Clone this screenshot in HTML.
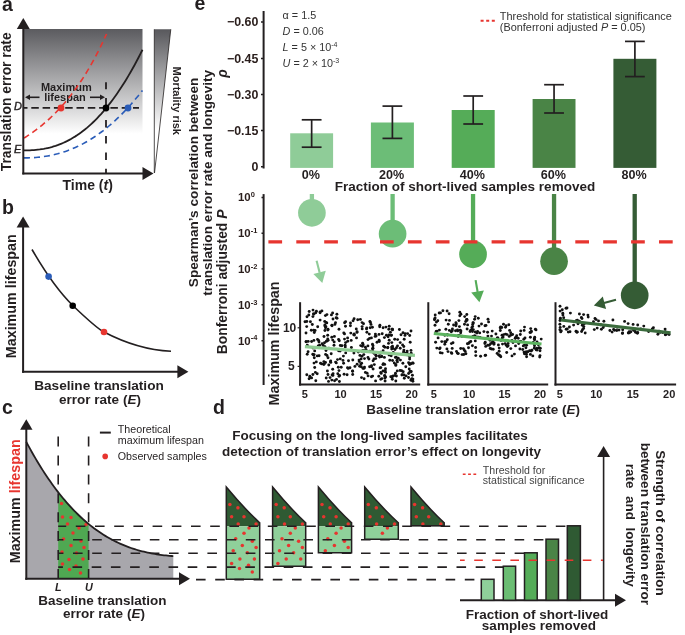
<!DOCTYPE html>
<html><head><meta charset="utf-8"><style>
html,body{margin:0;padding:0;background:#fff;}
svg{display:block;font-family:"Liberation Sans",sans-serif;will-change:transform;}
</style></head><body>
<svg width="685" height="635" viewBox="0 0 685 635">
<defs><linearGradient id="ga" x1="0" y1="0" x2="0" y2="1"><stop offset="0" stop-color="#5b5b5f"/><stop offset="0.97" stop-color="#ffffff"/><stop offset="1" stop-color="#ffffff"/></linearGradient><linearGradient id="gm" x1="0" y1="0" x2="0" y2="1"><stop offset="0" stop-color="#58585c"/><stop offset="0.7" stop-color="#ffffff"/><stop offset="1" stop-color="#ffffff"/></linearGradient></defs>
<text x="2" y="10.5" font-size="19.5" font-weight="bold" font-style="normal" text-anchor="start" fill="#231f20" >a</text>
<rect x="24" y="29" width="118.5" height="108" fill="url(#ga)" stroke="none" stroke-width="0"/>
<polygon points="154.3,29.3 170.8,29.3 154.5,173" fill="url(#gm)" stroke="none" stroke-width="0"/>
<line x1="154.3" y1="29.3" x2="154.3" y2="173" stroke="#231f20" stroke-width="0.8" stroke-linecap="butt"/>
<line x1="170.8" y1="29.3" x2="154.5" y2="173" stroke="#231f20" stroke-width="0.8" stroke-linecap="butt"/>
<text x="172.6" y="66.5" font-size="11" font-weight="bold" font-style="normal" text-anchor="start" fill="#231f20" transform="rotate(90 172.6 66.5)" >Mortality risk</text>
<text x="66.3" y="91.4" font-size="11" font-weight="bold" font-style="normal" text-anchor="middle" fill="#231f20" >Maximum</text>
<text x="65" y="100.9" font-size="11" font-weight="bold" font-style="normal" text-anchor="middle" fill="#231f20" >lifespan</text>
<path d="M24.00,150.46 L25.98,150.44 L27.95,150.39 L29.93,150.32 L31.90,150.22 L33.88,150.09 L35.85,149.92 L37.83,149.71 L39.80,149.47 L41.77,149.18 L43.75,148.85 L45.73,148.47 L47.70,148.04 L49.67,147.57 L51.65,147.05 L53.62,146.47 L55.60,145.85 L57.58,145.16 L59.55,144.42 L61.52,143.63 L63.50,142.78 L65.47,141.86 L67.45,140.89 L69.42,139.85 L71.40,138.76 L73.38,137.59 L75.35,136.37 L77.33,135.07 L79.30,133.71 L81.28,132.29 L83.25,130.79 L85.22,129.23 L87.20,127.59 L89.17,125.88 L91.15,124.10 L93.12,122.25 L95.10,120.32 L97.08,118.31 L99.05,116.23 L101.03,114.08 L103.00,111.84 L104.97,109.53 L106.95,107.14 L108.92,104.67 L110.90,102.12 L112.88,99.48 L114.85,96.77 L116.83,93.97 L118.80,91.09 L120.78,88.12 L122.75,85.07 L124.72,81.93 L126.70,78.71 L128.68,75.40 L130.65,72.00 L132.62,68.52 L134.60,64.94 L136.57,61.27 L138.55,57.52 L140.53,53.67 L142.50,49.73" stroke="#231f20" stroke-width="1.8" fill="none"/>
<path d="M24.00,138.08 L25.38,137.22 L26.75,136.33 L28.12,135.43 L29.50,134.51 L30.88,133.57 L32.25,132.61 L33.62,131.62 L35.00,130.62 L36.38,129.60 L37.75,128.55 L39.12,127.48 L40.50,126.39 L41.88,125.27 L43.25,124.13 L44.62,122.96 L46.00,121.77 L47.38,120.56 L48.75,119.32 L50.12,118.05 L51.50,116.75 L52.88,115.43 L54.25,114.07 L55.62,112.69 L57.00,111.28 L58.38,109.84 L59.75,108.36 L61.12,106.86 L62.50,105.32 L63.88,103.75 L65.25,102.15 L66.62,100.51 L68.00,98.83 L69.38,97.12 L70.75,95.37 L72.12,93.59 L73.50,91.76 L74.88,89.90 L76.25,88.00 L77.62,86.05 L79.00,84.07 L80.38,82.04 L81.75,79.96 L83.12,77.84 L84.50,75.68 L85.88,73.47 L87.25,71.21 L88.62,68.91 L90.00,66.55 L91.38,64.14 L92.75,61.68 L94.12,59.17 L95.50,56.61 L96.88,53.98 L98.25,51.31 L99.62,48.57 L101.00,45.77 L102.38,42.92 L103.75,40.00 L105.12,37.02 L106.50,33.98" stroke="#e7352f" stroke-width="1.6" fill="none" stroke-dasharray="6 4"/>
<path d="M24.00,157.92 L25.98,157.90 L27.95,157.86 L29.93,157.80 L31.90,157.71 L33.88,157.60 L35.85,157.46 L37.83,157.29 L39.80,157.09 L41.77,156.86 L43.75,156.59 L45.73,156.30 L47.70,155.97 L49.67,155.61 L51.65,155.21 L53.62,154.78 L55.60,154.31 L57.58,153.81 L59.55,153.26 L61.52,152.68 L63.50,152.06 L65.47,151.40 L67.45,150.70 L69.42,149.96 L71.40,149.18 L73.38,148.36 L75.35,147.50 L77.33,146.59 L79.30,145.64 L81.28,144.65 L83.25,143.61 L85.22,142.53 L87.20,141.41 L89.17,140.24 L91.15,139.03 L93.12,137.77 L95.10,136.46 L97.08,135.11 L99.05,133.71 L101.03,132.26 L103.00,130.77 L104.97,129.23 L106.95,127.64 L108.92,126.00 L110.90,124.32 L112.88,122.58 L114.85,120.80 L116.83,118.96 L118.80,117.08 L120.78,115.14 L122.75,113.16 L124.72,111.12 L126.70,109.03 L128.68,106.89 L130.65,104.70 L132.62,102.46 L134.60,100.16 L136.57,97.82 L138.55,95.41 L140.53,92.96 L142.50,90.45" stroke="#2a5cb8" stroke-width="1.6" fill="none" stroke-dasharray="6 4"/>
<line x1="24" y1="107.8" x2="139" y2="107.8" stroke="#231f20" stroke-width="1.8" stroke-dasharray="7.5 3.8" stroke-dashoffset="4"/>
<line x1="106" y1="82.3" x2="106" y2="89.3" stroke="#231f20" stroke-width="1.8" stroke-linecap="butt"/>
<line x1="106" y1="98" x2="106" y2="105" stroke="#231f20" stroke-width="1.8" stroke-linecap="butt"/>
<line x1="106" y1="119.9" x2="106" y2="127.6" stroke="#231f20" stroke-width="1.8" stroke-linecap="butt"/>
<line x1="106" y1="135.9" x2="106" y2="143.6" stroke="#231f20" stroke-width="1.8" stroke-linecap="butt"/>
<line x1="106" y1="152.4" x2="106" y2="160.1" stroke="#231f20" stroke-width="1.8" stroke-linecap="butt"/>
<line x1="106" y1="168.7" x2="106" y2="173" stroke="#231f20" stroke-width="1.8" stroke-linecap="butt"/>
<circle cx="61" cy="108" r="3.4" fill="#e7352f"/>
<circle cx="106" cy="108" r="3.4" fill="#000"/>
<circle cx="128" cy="108" r="3.4" fill="#2a5cb8"/>
<line x1="23.3" y1="29" x2="23.3" y2="174.4" stroke="#231f20" stroke-width="2" stroke-linecap="butt"/>
<polygon points="23.3,18 16.8,29 29.8,29" fill="#231f20" stroke="none" stroke-width="0"/>
<line x1="22.3" y1="173.5" x2="143" y2="173.5" stroke="#231f20" stroke-width="2" stroke-linecap="butt"/>
<polygon points="153.5,173.5 142.5,167.0 142.5,180.0" fill="#231f20" stroke="none" stroke-width="0"/>
<line x1="28" y1="97.3" x2="39.5" y2="97.3" stroke="#231f20" stroke-width="1.6" stroke-linecap="butt"/>
<polygon points="25,97.3 30,94.6 30,100" fill="#231f20" stroke="none" stroke-width="0"/>
<line x1="90" y1="97.3" x2="101" y2="97.3" stroke="#231f20" stroke-width="1.6" stroke-linecap="butt"/>
<polygon points="105,97.3 100,94.6 100,100" fill="#231f20" stroke="none" stroke-width="0"/>
<text x="14" y="109.5" font-size="11" font-weight="normal" font-style="italic" text-anchor="start" fill="#231f20" stroke="#231f20" stroke-width="0.4">D</text>
<text x="14" y="152.6" font-size="11" font-weight="normal" font-style="italic" text-anchor="start" fill="#231f20" stroke="#231f20" stroke-width="0.4">E</text>
<text x="10.6" y="101.8" font-size="13.8" font-weight="bold" font-style="normal" text-anchor="middle" fill="#231f20" transform="rotate(-90 10.6 101.8)" >Translation error rate</text>
<text x="62.5" y="190" font-size="14" font-weight="bold" font-style="normal" text-anchor="start" fill="#231f20" >Time (<tspan font-style="italic">t</tspan>)</text>
<text x="2" y="213.8" font-size="19.5" font-weight="bold" font-style="normal" text-anchor="start" fill="#231f20" >b</text>
<line x1="23.1" y1="226" x2="23.1" y2="372.8" stroke="#231f20" stroke-width="2" stroke-linecap="butt"/>
<polygon points="23.1,216.4 16.6,227.4 29.6,227.4" fill="#231f20" stroke="none" stroke-width="0"/>
<line x1="22.1" y1="371.8" x2="178" y2="371.8" stroke="#231f20" stroke-width="2" stroke-linecap="butt"/>
<polygon points="188.4,371.8 177.4,365.3 177.4,378.3" fill="#231f20" stroke="none" stroke-width="0"/>
<path d="M32,249.5 C45,272 60,293 73,305.7 C88,320 100,330 104,332 C125,343 145,350 171,351.3" stroke="#231f20" stroke-width="1.6" fill="none"/>
<circle cx="48.6" cy="276.6" r="3.3" fill="#2a5cb8"/>
<circle cx="72.7" cy="305.7" r="3.3" fill="#000"/>
<circle cx="104" cy="332" r="3.3" fill="#e7352f"/>
<text x="16.5" y="296.2" font-size="14.3" font-weight="bold" font-style="normal" text-anchor="middle" fill="#231f20" transform="rotate(-90 16.5 296.2)" >Maximum lifespan</text>
<text x="99" y="390.3" font-size="13.65" font-weight="bold" font-style="normal" text-anchor="middle" fill="#231f20" >Baseline translation</text>
<text x="100" y="404.1" font-size="13.5" font-weight="bold" font-style="normal" text-anchor="middle" fill="#231f20" >error rate (<tspan font-style="italic">E</tspan>)</text>
<text x="2" y="414.3" font-size="19.5" font-weight="bold" font-style="normal" text-anchor="start" fill="#231f20" >c</text>
<path d="M26.3,578.8 L26.30,441.89 L28.14,445.33 L29.98,448.69 L31.81,451.99 L33.65,455.21 L35.49,458.38 L37.33,461.47 L39.16,464.50 L41.00,467.47 L42.84,470.37 L44.67,473.20 L46.51,475.98 L48.35,478.69 L50.19,481.34 L52.03,483.93 L53.86,486.47 L55.70,488.94 L57.54,491.35 L59.38,493.71 L61.21,496.01 L63.05,498.25 L64.89,500.43 L66.72,502.57 L68.56,504.64 L70.40,506.67 L72.24,508.64 L74.08,510.56 L75.91,512.42 L77.75,514.24 L79.59,516.01 L81.42,517.72 L83.26,519.39 L85.10,521.01 L86.94,522.59 L88.78,524.11 L90.61,525.59 L92.45,527.03 L94.29,528.42 L96.12,529.77 L97.96,531.07 L99.80,532.33 L101.64,533.55 L103.47,534.73 L105.31,535.87 L107.15,536.97 L108.99,538.03 L110.83,539.05 L112.66,540.04 L114.50,540.99 L116.34,541.90 L118.17,542.78 L120.01,543.62 L121.85,544.43 L123.69,545.20 L125.52,545.95 L127.36,546.66 L129.20,547.34 L131.04,547.99 L132.88,548.61 L134.71,549.20 L136.55,549.76 L138.39,550.29 L140.22,550.80 L142.06,551.28 L143.90,551.74 L145.74,552.17 L147.58,552.58 L149.41,552.96 L151.25,553.32 L153.09,553.66 L154.93,553.98 L156.76,554.27 L158.60,554.55 L160.44,554.81 L162.28,555.05 L164.11,555.27 L165.95,555.47 L167.79,555.66 L169.62,555.83 L171.46,555.99 L173.30,556.13 L173.3,578.8 Z" fill="#a8a7ac"/>
<path d="M58.2,578.8 L58.20,492.21 L59.72,494.14 L61.24,496.04 L62.76,497.90 L64.28,499.72 L65.80,501.50 L67.32,503.24 L68.84,504.95 L70.36,506.62 L71.88,508.26 L73.40,509.86 L74.92,511.42 L76.44,512.95 L77.96,514.44 L79.48,515.90 L81.00,517.33 L82.52,518.72 L84.04,520.08 L85.56,521.41 L87.08,522.71 L88.60,523.97 L88.6,578.8 Z" fill="#4fa852"/>
<circle cx="61.5" cy="503.5" r="1.75" fill="#e7352f"/>
<circle cx="62.5" cy="517" r="1.75" fill="#e7352f"/>
<circle cx="71" cy="517.5" r="1.75" fill="#e7352f"/>
<circle cx="67.5" cy="524" r="1.75" fill="#e7352f"/>
<circle cx="86" cy="524.5" r="1.75" fill="#e7352f"/>
<circle cx="79" cy="528" r="1.75" fill="#e7352f"/>
<circle cx="73" cy="533" r="1.75" fill="#e7352f"/>
<circle cx="63.5" cy="539" r="1.75" fill="#e7352f"/>
<circle cx="81" cy="541" r="1.75" fill="#e7352f"/>
<circle cx="71" cy="545.5" r="1.75" fill="#e7352f"/>
<circle cx="84" cy="547.5" r="1.75" fill="#e7352f"/>
<circle cx="62" cy="552" r="1.75" fill="#e7352f"/>
<circle cx="76.5" cy="553" r="1.75" fill="#e7352f"/>
<circle cx="69" cy="559.5" r="1.75" fill="#e7352f"/>
<circle cx="83" cy="559" r="1.75" fill="#e7352f"/>
<circle cx="62.5" cy="564" r="1.75" fill="#e7352f"/>
<circle cx="76" cy="566" r="1.75" fill="#e7352f"/>
<circle cx="69.5" cy="569.5" r="1.75" fill="#e7352f"/>
<circle cx="80.5" cy="573" r="1.75" fill="#e7352f"/>
<path d="M26.30,441.89 L28.14,445.33 L29.98,448.69 L31.81,451.99 L33.65,455.21 L35.49,458.38 L37.33,461.47 L39.16,464.50 L41.00,467.47 L42.84,470.37 L44.67,473.20 L46.51,475.98 L48.35,478.69 L50.19,481.34 L52.03,483.93 L53.86,486.47 L55.70,488.94 L57.54,491.35 L59.38,493.71 L61.21,496.01 L63.05,498.25 L64.89,500.43 L66.72,502.57 L68.56,504.64 L70.40,506.67 L72.24,508.64 L74.08,510.56 L75.91,512.42 L77.75,514.24 L79.59,516.01 L81.42,517.72 L83.26,519.39 L85.10,521.01 L86.94,522.59 L88.78,524.11 L90.61,525.59 L92.45,527.03 L94.29,528.42 L96.12,529.77 L97.96,531.07 L99.80,532.33 L101.64,533.55 L103.47,534.73 L105.31,535.87 L107.15,536.97 L108.99,538.03 L110.83,539.05 L112.66,540.04 L114.50,540.99 L116.34,541.90 L118.17,542.78 L120.01,543.62 L121.85,544.43 L123.69,545.20 L125.52,545.95 L127.36,546.66 L129.20,547.34 L131.04,547.99 L132.88,548.61 L134.71,549.20 L136.55,549.76 L138.39,550.29 L140.22,550.80 L142.06,551.28 L143.90,551.74 L145.74,552.17 L147.58,552.58 L149.41,552.96 L151.25,553.32 L153.09,553.66 L154.93,553.98 L156.76,554.27 L158.60,554.55 L160.44,554.81 L162.28,555.05 L164.11,555.27 L165.95,555.47 L167.79,555.66 L169.62,555.83 L171.46,555.99 L173.30,556.13" stroke="#231f20" stroke-width="1.8" fill="none"/>
<line x1="58.2" y1="436.6" x2="58.2" y2="578.8" stroke="#231f20" stroke-width="1.6" stroke-dasharray="10 8.9"/>
<line x1="88.6" y1="436.6" x2="88.6" y2="578.8" stroke="#231f20" stroke-width="1.6" stroke-dasharray="10 8.9"/>
<line x1="26.3" y1="428" x2="26.3" y2="579.8" stroke="#231f20" stroke-width="2" stroke-linecap="butt"/>
<polygon points="26.3,419.2 20.1,429.7 32.5,429.7" fill="#231f20" stroke="none" stroke-width="0"/>
<line x1="25.3" y1="578.8" x2="180" y2="578.8" stroke="#231f20" stroke-width="2" stroke-linecap="butt"/>
<polygon points="190,578.8 179,572.3 179,585.3" fill="#231f20" stroke="none" stroke-width="0"/>
<text x="19.7" y="501.3" font-size="14.3" font-weight="bold" font-style="normal" text-anchor="middle" fill="#231f20" transform="rotate(-90 19.7 501.3)" >Maximum <tspan fill="#e7352f">lifespan</tspan></text>
<text x="58.3" y="590.8" font-size="10.8" font-weight="bold" font-style="italic" text-anchor="middle" fill="#231f20" >L</text>
<text x="89" y="590.8" font-size="10.8" font-weight="bold" font-style="italic" text-anchor="middle" fill="#231f20" >U</text>
<text x="102.4" y="604.5" font-size="13.5" font-weight="bold" font-style="normal" text-anchor="middle" fill="#231f20" >Baseline translation</text>
<text x="104" y="617.7" font-size="13.5" font-weight="bold" font-style="normal" text-anchor="middle" fill="#231f20" >error rate (<tspan font-style="italic">E</tspan>)</text>
<line x1="99.9" y1="432.6" x2="110.8" y2="432.6" stroke="#231f20" stroke-width="2" stroke-linecap="butt"/>
<circle cx="105.2" cy="456.4" r="2.8" fill="#e7352f"/>
<text x="117.8" y="433.1" font-size="10.7" font-weight="normal" font-style="normal" text-anchor="start" fill="#231f20" >Theoretical</text>
<text x="117.8" y="443.7" font-size="10.7" font-weight="normal" font-style="normal" text-anchor="start" fill="#231f20" >maximum lifespan</text>
<text x="117.8" y="460.3" font-size="10.7" font-weight="normal" font-style="normal" text-anchor="start" fill="#231f20" >Observed samples</text>
<text x="213" y="414.3" font-size="19.5" font-weight="bold" font-style="normal" text-anchor="start" fill="#231f20" >d</text>
<text x="380" y="440" font-size="13.5" font-weight="bold" font-style="normal" text-anchor="middle" fill="#231f20" >Focusing on the long-lived samples facilitates</text>
<text x="381.5" y="456" font-size="13.5" font-weight="bold" font-style="normal" text-anchor="middle" fill="#231f20" >detection of translation error’s effect on longevity</text>
<path d="M226.3,487.0 Q244.67000000000002,509.134 259.7,522.7 L259.7,526.3 L226.3,526.3 Z" fill="#2f5a33"/>
<rect x="226.3" y="526.3" width="33.39999999999998" height="53.0" fill="#8fd09a" stroke="none" stroke-width="0"/>
<circle cx="229.9" cy="504.5" r="1.75" fill="#e7352f"/>
<circle cx="237.9" cy="507.8" r="1.75" fill="#e7352f"/>
<circle cx="231.6" cy="516.7" r="1.75" fill="#e7352f"/>
<circle cx="244.0" cy="516.7" r="1.75" fill="#e7352f"/>
<circle cx="238.2" cy="524" r="1.75" fill="#e7352f"/>
<circle cx="256.1" cy="524" r="1.75" fill="#e7352f"/>
<circle cx="249.0" cy="528" r="1.75" fill="#e7352f"/>
<circle cx="244.0" cy="533.3" r="1.75" fill="#e7352f"/>
<circle cx="235.7" cy="538.7" r="1.75" fill="#e7352f"/>
<circle cx="252.3" cy="541.2" r="1.75" fill="#e7352f"/>
<circle cx="242.3" cy="545.4" r="1.75" fill="#e7352f"/>
<circle cx="256.1" cy="547.5" r="1.75" fill="#e7352f"/>
<circle cx="233.2" cy="550.8" r="1.75" fill="#e7352f"/>
<circle cx="247.3" cy="552.8" r="1.75" fill="#e7352f"/>
<circle cx="239.9" cy="559.1" r="1.75" fill="#e7352f"/>
<circle cx="254.4" cy="559.1" r="1.75" fill="#e7352f"/>
<circle cx="231.6" cy="563.6" r="1.75" fill="#e7352f"/>
<circle cx="248.5" cy="565.2" r="1.75" fill="#e7352f"/>
<circle cx="239.5" cy="568.5" r="1.75" fill="#e7352f"/>
<circle cx="252.3" cy="572" r="1.75" fill="#e7352f"/>
<path d="M226.3,487.0 Q244.67000000000002,509.134 259.7,522.7 L259.7,579.3 L226.3,579.3 Z" fill="none" stroke="#231f20" stroke-width="1.5"/>
<path d="M272.6,487.0 Q290.805,509.134 305.7,522.7 L305.7,526.3 L272.6,526.3 Z" fill="#2f5a33"/>
<rect x="272.6" y="526.3" width="33.099999999999966" height="39.90000000000009" fill="#8fd09a" stroke="none" stroke-width="0"/>
<circle cx="276.2" cy="504.5" r="1.75" fill="#e7352f"/>
<circle cx="284.2" cy="507.8" r="1.75" fill="#e7352f"/>
<circle cx="277.9" cy="516.7" r="1.75" fill="#e7352f"/>
<circle cx="290.3" cy="516.7" r="1.75" fill="#e7352f"/>
<circle cx="284.5" cy="524" r="1.75" fill="#e7352f"/>
<circle cx="302.4" cy="524" r="1.75" fill="#e7352f"/>
<circle cx="295.3" cy="528" r="1.75" fill="#e7352f"/>
<circle cx="290.3" cy="533.3" r="1.75" fill="#e7352f"/>
<circle cx="282.0" cy="538.7" r="1.75" fill="#e7352f"/>
<circle cx="298.6" cy="541.2" r="1.75" fill="#e7352f"/>
<circle cx="288.6" cy="545.4" r="1.75" fill="#e7352f"/>
<circle cx="302.4" cy="547.5" r="1.75" fill="#e7352f"/>
<circle cx="279.5" cy="550.8" r="1.75" fill="#e7352f"/>
<circle cx="293.6" cy="552.8" r="1.75" fill="#e7352f"/>
<circle cx="286.2" cy="559.1" r="1.75" fill="#e7352f"/>
<circle cx="300.7" cy="559.1" r="1.75" fill="#e7352f"/>
<circle cx="277.9" cy="563.6" r="1.75" fill="#e7352f"/>
<path d="M272.6,487.0 Q290.805,509.134 305.7,522.7 L305.7,566.2 L272.6,566.2 Z" fill="none" stroke="#231f20" stroke-width="1.5"/>
<path d="M318.4,487.0 Q336.66,509.134 351.6,522.7 L351.6,526.3 L318.4,526.3 Z" fill="#2f5a33"/>
<rect x="318.4" y="526.3" width="33.200000000000045" height="26.5" fill="#8fd09a" stroke="none" stroke-width="0"/>
<circle cx="322.0" cy="504.5" r="1.75" fill="#e7352f"/>
<circle cx="330.0" cy="507.8" r="1.75" fill="#e7352f"/>
<circle cx="323.7" cy="516.7" r="1.75" fill="#e7352f"/>
<circle cx="336.1" cy="516.7" r="1.75" fill="#e7352f"/>
<circle cx="330.3" cy="524" r="1.75" fill="#e7352f"/>
<circle cx="348.2" cy="524" r="1.75" fill="#e7352f"/>
<circle cx="341.1" cy="528" r="1.75" fill="#e7352f"/>
<circle cx="336.1" cy="533.3" r="1.75" fill="#e7352f"/>
<circle cx="327.8" cy="538.7" r="1.75" fill="#e7352f"/>
<circle cx="344.4" cy="541.2" r="1.75" fill="#e7352f"/>
<circle cx="334.4" cy="545.4" r="1.75" fill="#e7352f"/>
<circle cx="348.2" cy="547.5" r="1.75" fill="#e7352f"/>
<circle cx="325.3" cy="550.8" r="1.75" fill="#e7352f"/>
<path d="M318.4,487.0 Q336.66,509.134 351.6,522.7 L351.6,552.8 L318.4,552.8 Z" fill="none" stroke="#231f20" stroke-width="1.5"/>
<path d="M364.7,487.0 Q383.18,509.134 398.3,522.7 L398.3,526.3 L364.7,526.3 Z" fill="#2f5a33"/>
<rect x="364.7" y="526.3" width="33.60000000000002" height="12.900000000000091" fill="#8fd09a" stroke="none" stroke-width="0"/>
<circle cx="368.3" cy="504.5" r="1.75" fill="#e7352f"/>
<circle cx="376.3" cy="507.8" r="1.75" fill="#e7352f"/>
<circle cx="370.0" cy="516.7" r="1.75" fill="#e7352f"/>
<circle cx="382.4" cy="516.7" r="1.75" fill="#e7352f"/>
<circle cx="376.6" cy="524" r="1.75" fill="#e7352f"/>
<circle cx="394.5" cy="524" r="1.75" fill="#e7352f"/>
<circle cx="387.4" cy="528" r="1.75" fill="#e7352f"/>
<circle cx="382.4" cy="533.3" r="1.75" fill="#e7352f"/>
<path d="M364.7,487.0 Q383.18,509.134 398.3,522.7 L398.3,539.2 L364.7,539.2 Z" fill="none" stroke="#231f20" stroke-width="1.5"/>
<path d="M411,487.0 Q429.26,509.134 444.2,522.7 L444.2,526.3 L411,526.3 Z" fill="#2f5a33"/>
<circle cx="414.6" cy="504.5" r="1.75" fill="#e7352f"/>
<circle cx="422.6" cy="507.8" r="1.75" fill="#e7352f"/>
<circle cx="416.3" cy="516.7" r="1.75" fill="#e7352f"/>
<circle cx="428.7" cy="516.7" r="1.75" fill="#e7352f"/>
<circle cx="422.9" cy="524" r="1.75" fill="#e7352f"/>
<circle cx="440.8" cy="524" r="1.75" fill="#e7352f"/>
<path d="M411,487.0 Q429.26,509.134 444.2,522.7 L444.2,525.8 L411,525.8 Z" fill="none" stroke="#231f20" stroke-width="1.5"/>
<line x1="58.2" y1="526.3" x2="567.3" y2="526.3" stroke="#231f20" stroke-width="1.6" stroke-dasharray="9.6 9.6" stroke-dashoffset="1.60"/>
<line x1="58.2" y1="539.8" x2="546" y2="539.8" stroke="#231f20" stroke-width="1.6" stroke-dasharray="9.6 9.6" stroke-dashoffset="4.40"/>
<line x1="58.2" y1="553.3" x2="524.5" y2="553.3" stroke="#231f20" stroke-width="1.6" stroke-dasharray="9.6 9.6" stroke-dashoffset="4.40"/>
<line x1="58.2" y1="567.1" x2="503.3" y2="567.1" stroke="#231f20" stroke-width="1.6" stroke-dasharray="9.6 9.6" stroke-dashoffset="4.90"/>
<line x1="196" y1="579.6" x2="481.3" y2="579.6" stroke="#231f20" stroke-width="1.6" stroke-dasharray="9.6 9.6"/>
<line x1="603.6" y1="455" x2="603.6" y2="600.3" stroke="#231f20" stroke-width="1.6" stroke-linecap="butt"/>
<polygon points="603.6,446 597.1,457 610.1,457" fill="#231f20" stroke="none" stroke-width="0"/>
<line x1="460" y1="600.3" x2="616" y2="600.3" stroke="#231f20" stroke-width="2" stroke-linecap="butt"/>
<polygon points="626,600.3 615,593.8 615,606.8" fill="#231f20" stroke="none" stroke-width="0"/>
<rect x="481.3" y="579.3" width="12.699999999999989" height="21.0" fill="#8fd09a" stroke="#231f20" stroke-width="1.5"/>
<rect x="503.3" y="566.2" width="12.300000000000011" height="34.09999999999991" fill="#6bbd73" stroke="#231f20" stroke-width="1.5"/>
<rect x="524.5" y="552.8" width="12.700000000000045" height="47.5" fill="#55ac58" stroke="#231f20" stroke-width="1.5"/>
<rect x="546" y="539.2" width="12.5" height="61.09999999999991" fill="#4a8446" stroke="#231f20" stroke-width="1.5"/>
<rect x="567.3" y="525.8" width="13.100000000000023" height="74.5" fill="#2f5a33" stroke="#231f20" stroke-width="1.5"/>
<line x1="460" y1="560.2" x2="603" y2="560.2" stroke="#e7352f" stroke-width="1.5" stroke-dasharray="8.6 9.5" stroke-dashoffset="3.9"/>
<line x1="462.8" y1="474.2" x2="477.5" y2="474.2" stroke="#e7352f" stroke-width="1.4" stroke-dasharray="2.8 2.5" stroke-linecap="butt"/>
<text x="482.8" y="473.7" font-size="10.6" font-weight="normal" font-style="normal" text-anchor="start" fill="#444" >Threshold for</text>
<text x="482.8" y="484.3" font-size="10.6" font-weight="normal" font-style="normal" text-anchor="start" fill="#444" >statistical significance</text>
<text x="656.4" y="523" font-size="13.5" font-weight="bold" font-style="normal" text-anchor="middle" fill="#231f20" transform="rotate(90 656.4 523)" >Strength of correlation</text>
<text x="641.3" y="523.9" font-size="13.5" font-weight="bold" font-style="normal" text-anchor="middle" fill="#231f20" transform="rotate(90 641.3 523.9)" >between translation error</text>
<text x="625.9" y="525.2" font-size="13.5" font-weight="bold" font-style="normal" text-anchor="middle" fill="#231f20" transform="rotate(90 625.9 525.2)" >rate&#160; and&#160; longevity</text>
<text x="536.9" y="618.6" font-size="13.5" font-weight="bold" font-style="normal" text-anchor="middle" fill="#231f20" >Fraction of short-lived</text>
<text x="538.9" y="630.2" font-size="13.5" font-weight="bold" font-style="normal" text-anchor="middle" fill="#231f20" >samples removed</text>
<text x="194.5" y="10.4" font-size="19.5" font-weight="bold" font-style="normal" text-anchor="start" fill="#231f20" >e</text>
<line x1="263.6" y1="11" x2="263.6" y2="168.5" stroke="#231f20" stroke-width="2" stroke-linecap="butt"/>
<line x1="261" y1="22" x2="263" y2="22" stroke="#231f20" stroke-width="1.4" stroke-linecap="butt"/>
<text x="258.3" y="26.2" font-size="12.4" font-weight="bold" font-style="normal" text-anchor="end" fill="#2a1e1c" >−0.60</text>
<line x1="261" y1="58.5" x2="263" y2="58.5" stroke="#231f20" stroke-width="1.4" stroke-linecap="butt"/>
<text x="258.3" y="62.7" font-size="12.4" font-weight="bold" font-style="normal" text-anchor="end" fill="#2a1e1c" >−0.45</text>
<line x1="261" y1="94.5" x2="263" y2="94.5" stroke="#231f20" stroke-width="1.4" stroke-linecap="butt"/>
<text x="258.3" y="98.7" font-size="12.4" font-weight="bold" font-style="normal" text-anchor="end" fill="#2a1e1c" >−0.30</text>
<line x1="261" y1="130.5" x2="263" y2="130.5" stroke="#231f20" stroke-width="1.4" stroke-linecap="butt"/>
<text x="258.3" y="134.7" font-size="12.4" font-weight="bold" font-style="normal" text-anchor="end" fill="#2a1e1c" >−0.15</text>
<line x1="261" y1="166.8" x2="263" y2="166.8" stroke="#231f20" stroke-width="1.4" stroke-linecap="butt"/>
<text x="258.3" y="171.0" font-size="12.4" font-weight="bold" font-style="normal" text-anchor="end" fill="#2a1e1c" >0</text>
<text x="227.3" y="77.8" font-size="14" font-weight="bold" font-style="normal" text-anchor="start" fill="#231f20" transform="rotate(-90 227.3 77.8)" ><tspan font-style="italic">ρ</tspan></text>
<text x="282.6" y="18.7" font-size="10.8" font-weight="normal" font-style="normal" text-anchor="start" fill="#333" >α = 1.5</text>
<text x="282.6" y="35.4" font-size="10.8" font-weight="normal" font-style="normal" text-anchor="start" fill="#333" ><tspan font-style="italic">D</tspan> = 0.06</text>
<text x="282.6" y="51.4" font-size="10.8" font-weight="normal" font-style="normal" text-anchor="start" fill="#333" ><tspan font-style="italic">L</tspan> = 5 × 10<tspan font-size="7" dy="-4">-4</tspan></text>
<text x="282.6" y="67.3" font-size="10.8" font-weight="normal" font-style="normal" text-anchor="start" fill="#333" ><tspan font-style="italic">U</tspan> = 2 × 10<tspan font-size="7" dy="-4">-3</tspan></text>
<line x1="480.6" y1="20.8" x2="495" y2="20.8" stroke="#e7352f" stroke-width="2" stroke-dasharray="3 2.6" stroke-linecap="butt"/>
<text x="499.8" y="20.2" font-size="10.9" font-weight="normal" font-style="normal" text-anchor="start" fill="#333" >Threshold for statistical significance</text>
<text x="499.8" y="31" font-size="10.9" font-weight="normal" font-style="normal" text-anchor="start" fill="#333" >(Bonferroni adjusted <tspan font-style="italic">P</tspan> = 0.05)</text>
<rect x="290.2" y="133.3" width="42.900000000000034" height="34.599999999999994" fill="#8fcc98" stroke="none" stroke-width="0"/>
<line x1="311.65" y1="119.8" x2="311.65" y2="147.2" stroke="#231f20" stroke-width="1.7" stroke-linecap="butt"/>
<line x1="301.75" y1="119.8" x2="321.54999999999995" y2="119.8" stroke="#231f20" stroke-width="1.7" stroke-linecap="butt"/>
<line x1="301.75" y1="147.2" x2="321.54999999999995" y2="147.2" stroke="#231f20" stroke-width="1.7" stroke-linecap="butt"/>
<text x="310.84999999999997" y="178.7" font-size="12.6" font-weight="bold" font-style="normal" text-anchor="middle" fill="#231f20" >0%</text>
<rect x="370.9" y="122.5" width="43.0" height="45.400000000000006" fill="#6cbd77" stroke="none" stroke-width="0"/>
<line x1="392.4" y1="106.1" x2="392.4" y2="138.4" stroke="#231f20" stroke-width="1.7" stroke-linecap="butt"/>
<line x1="382.5" y1="106.1" x2="402.29999999999995" y2="106.1" stroke="#231f20" stroke-width="1.7" stroke-linecap="butt"/>
<line x1="382.5" y1="138.4" x2="402.29999999999995" y2="138.4" stroke="#231f20" stroke-width="1.7" stroke-linecap="butt"/>
<text x="391.59999999999997" y="178.7" font-size="12.6" font-weight="bold" font-style="normal" text-anchor="middle" fill="#231f20" >20%</text>
<rect x="451.7" y="110" width="43.0" height="57.900000000000006" fill="#55ac58" stroke="none" stroke-width="0"/>
<line x1="473.2" y1="96" x2="473.2" y2="124" stroke="#231f20" stroke-width="1.7" stroke-linecap="butt"/>
<line x1="463.3" y1="96" x2="483.09999999999997" y2="96" stroke="#231f20" stroke-width="1.7" stroke-linecap="butt"/>
<line x1="463.3" y1="124" x2="483.09999999999997" y2="124" stroke="#231f20" stroke-width="1.7" stroke-linecap="butt"/>
<text x="472.4" y="178.7" font-size="12.6" font-weight="bold" font-style="normal" text-anchor="middle" fill="#231f20" >40%</text>
<rect x="532.6" y="99" width="42.89999999999998" height="68.9" fill="#4a8446" stroke="none" stroke-width="0"/>
<line x1="554.05" y1="84.7" x2="554.05" y2="113" stroke="#231f20" stroke-width="1.7" stroke-linecap="butt"/>
<line x1="544.15" y1="84.7" x2="563.9499999999999" y2="84.7" stroke="#231f20" stroke-width="1.7" stroke-linecap="butt"/>
<line x1="544.15" y1="113" x2="563.9499999999999" y2="113" stroke="#231f20" stroke-width="1.7" stroke-linecap="butt"/>
<text x="553.25" y="178.7" font-size="12.6" font-weight="bold" font-style="normal" text-anchor="middle" fill="#231f20" >60%</text>
<rect x="613.4" y="58.8" width="43.0" height="109.10000000000001" fill="#355c35" stroke="none" stroke-width="0"/>
<line x1="634.9" y1="41.4" x2="634.9" y2="76.6" stroke="#231f20" stroke-width="1.7" stroke-linecap="butt"/>
<line x1="625.0" y1="41.4" x2="644.8" y2="41.4" stroke="#231f20" stroke-width="1.7" stroke-linecap="butt"/>
<line x1="625.0" y1="76.6" x2="644.8" y2="76.6" stroke="#231f20" stroke-width="1.7" stroke-linecap="butt"/>
<text x="634.1" y="178.7" font-size="12.6" font-weight="bold" font-style="normal" text-anchor="middle" fill="#231f20" >80%</text>
<text x="465" y="191.2" font-size="13.5" font-weight="bold" font-style="normal" text-anchor="middle" fill="#231f20" >Fraction of short-lived samples removed</text>
<text x="197.7" y="182.4" font-size="13.65" font-weight="bold" font-style="normal" text-anchor="middle" fill="#231f20" transform="rotate(-90 197.7 182.4)" >Spearman’s correlation between</text>
<text x="212" y="182.75" font-size="13.65" font-weight="bold" font-style="normal" text-anchor="middle" fill="#231f20" transform="rotate(-90 212 182.75)" >translation error rate and longevity</text>
<text x="226.6" y="281.9" font-size="13.85" font-weight="bold" font-style="normal" text-anchor="middle" fill="#231f20" transform="rotate(-90 226.6 281.9)" >Bonferroni adjusted <tspan font-style="italic">P</tspan></text>
<line x1="263.6" y1="194.1" x2="263.6" y2="385" stroke="#231f20" stroke-width="2" stroke-linecap="butt"/>
<line x1="261.5" y1="197.5" x2="263" y2="197.5" stroke="#231f20" stroke-width="1.4" stroke-linecap="butt"/>
<text x="238" y="201.4" font-size="11.4" font-weight="bold" fill="#2a1e1c">10<tspan font-size="7.5" dy="-4.2">0</tspan></text>
<line x1="261.5" y1="233.2" x2="263" y2="233.2" stroke="#231f20" stroke-width="1.4" stroke-linecap="butt"/>
<text x="238" y="237.1" font-size="11.4" font-weight="bold" fill="#2a1e1c">10<tspan font-size="7.5" dy="-4.2">-1</tspan></text>
<line x1="261.5" y1="268.9" x2="263" y2="268.9" stroke="#231f20" stroke-width="1.4" stroke-linecap="butt"/>
<text x="238" y="272.79999999999995" font-size="11.4" font-weight="bold" fill="#2a1e1c">10<tspan font-size="7.5" dy="-4.2">-2</tspan></text>
<line x1="261.5" y1="304.8" x2="263" y2="304.8" stroke="#231f20" stroke-width="1.4" stroke-linecap="butt"/>
<text x="238" y="308.7" font-size="11.4" font-weight="bold" fill="#2a1e1c">10<tspan font-size="7.5" dy="-4.2">-3</tspan></text>
<line x1="261.5" y1="340.7" x2="263" y2="340.7" stroke="#231f20" stroke-width="1.4" stroke-linecap="butt"/>
<text x="238" y="344.59999999999997" font-size="11.4" font-weight="bold" fill="#2a1e1c">10<tspan font-size="7.5" dy="-4.2">-4</tspan></text>
<line x1="311.9" y1="194" x2="311.9" y2="212.8" stroke="#8fcc98" stroke-width="4.3" stroke-linecap="butt"/>
<circle cx="311.9" cy="212.8" r="13.85" fill="#8fcc98"/>
<line x1="392.6" y1="194" x2="392.6" y2="233.7" stroke="#6cbd77" stroke-width="4.3" stroke-linecap="butt"/>
<circle cx="392.6" cy="233.7" r="13.85" fill="#6cbd77"/>
<line x1="473.05" y1="194" x2="473.05" y2="254.3" stroke="#55ac58" stroke-width="4.3" stroke-linecap="butt"/>
<circle cx="473.05" cy="254.3" r="13.85" fill="#55ac58"/>
<line x1="554.05" y1="194" x2="554.05" y2="261.2" stroke="#4a8446" stroke-width="4.3" stroke-linecap="butt"/>
<circle cx="554.05" cy="261.2" r="13.85" fill="#4a8446"/>
<line x1="634.7" y1="194" x2="634.7" y2="295.3" stroke="#355c35" stroke-width="4.3" stroke-linecap="butt"/>
<circle cx="634.7" cy="295.3" r="13.85" fill="#355c35"/>
<line x1="268.4" y1="241.9" x2="676" y2="241.9" stroke="#e7352f" stroke-width="3.2" stroke-dasharray="13.7 14.2"/>
<line x1="316.6" y1="260.8" x2="319.68875240276833" y2="272.8298777792029" stroke="#8fcc98" stroke-width="2.1" stroke-linecap="butt"/>
<polygon points="322.3,283 313.3654756397476,273.93720382795374 325.76333891843365,270.75396866180466" fill="#8fcc98" stroke="none" stroke-width="0"/>
<line x1="475.6" y1="280.1" x2="477.62846790211944" y2="291.95052300711876" stroke="#55ac58" stroke-width="2.1" stroke-linecap="butt"/>
<polygon points="479.4,302.3 471.23585658751176,292.5374817623564 483.8523618740718,290.3778997763686" fill="#55ac58" stroke="none" stroke-width="0"/>
<line x1="616" y1="299.7" x2="603.9477393189478" y2="302.90307828910846" stroke="#355c35" stroke-width="2.1" stroke-linecap="butt"/>
<polygon points="593.8,305.6 602.7871270055924,296.58936471799296 606.0748029960126,308.95994217347237" fill="#355c35" stroke="none" stroke-width="0"/>
<line x1="300.1" y1="302.2" x2="300.1" y2="385.6" stroke="#231f20" stroke-width="2" stroke-linecap="butt"/>
<line x1="299.1" y1="384.6" x2="420.2" y2="384.6" stroke="#231f20" stroke-width="2" stroke-linecap="butt"/>
<text x="304.9" y="398.4" font-size="11" font-weight="bold" font-style="normal" text-anchor="middle" fill="#231f20" >5</text>
<text x="340.5" y="398.4" font-size="11" font-weight="bold" font-style="normal" text-anchor="middle" fill="#231f20" >10</text>
<text x="376.09999999999997" y="398.4" font-size="11" font-weight="bold" font-style="normal" text-anchor="middle" fill="#231f20" >15</text>
<text x="411.7" y="398.4" font-size="11" font-weight="bold" font-style="normal" text-anchor="middle" fill="#231f20" >20</text>
<circle cx="353.9" cy="353.1" r="1.45" fill="#111"/>
<circle cx="404.9" cy="353.2" r="1.45" fill="#111"/>
<circle cx="359.9" cy="355.4" r="1.45" fill="#111"/>
<circle cx="324.9" cy="346.8" r="1.45" fill="#111"/>
<circle cx="373.1" cy="369.0" r="1.45" fill="#111"/>
<circle cx="315.1" cy="330.5" r="1.45" fill="#111"/>
<circle cx="314.7" cy="367.5" r="1.45" fill="#111"/>
<circle cx="379.9" cy="325.3" r="1.45" fill="#111"/>
<circle cx="411.2" cy="379.7" r="1.45" fill="#111"/>
<circle cx="375.7" cy="358.6" r="1.45" fill="#111"/>
<circle cx="321.9" cy="310.9" r="1.45" fill="#111"/>
<circle cx="362.1" cy="322.6" r="1.45" fill="#111"/>
<circle cx="325.5" cy="327.8" r="1.45" fill="#111"/>
<circle cx="308.2" cy="341.4" r="1.45" fill="#111"/>
<circle cx="352.6" cy="371.3" r="1.45" fill="#111"/>
<circle cx="361.1" cy="358.9" r="1.45" fill="#111"/>
<circle cx="359.0" cy="360.1" r="1.45" fill="#111"/>
<circle cx="354.4" cy="335.0" r="1.45" fill="#111"/>
<circle cx="412.9" cy="381.3" r="1.45" fill="#111"/>
<circle cx="395.8" cy="365.4" r="1.45" fill="#111"/>
<circle cx="339.0" cy="329.2" r="1.45" fill="#111"/>
<circle cx="336.2" cy="317.8" r="1.45" fill="#111"/>
<circle cx="387.8" cy="347.4" r="1.45" fill="#111"/>
<circle cx="396.5" cy="347.8" r="1.45" fill="#111"/>
<circle cx="408.6" cy="373.5" r="1.45" fill="#111"/>
<circle cx="305.0" cy="321.8" r="1.45" fill="#111"/>
<circle cx="403.4" cy="353.2" r="1.45" fill="#111"/>
<circle cx="411.0" cy="350.4" r="1.45" fill="#111"/>
<circle cx="312.8" cy="354.2" r="1.45" fill="#111"/>
<circle cx="389.2" cy="340.2" r="1.45" fill="#111"/>
<circle cx="314.3" cy="332.5" r="1.45" fill="#111"/>
<circle cx="409.2" cy="368.9" r="1.45" fill="#111"/>
<circle cx="317.7" cy="326.8" r="1.45" fill="#111"/>
<circle cx="315.8" cy="312.8" r="1.45" fill="#111"/>
<circle cx="391.2" cy="335.4" r="1.45" fill="#111"/>
<circle cx="365.4" cy="347.3" r="1.45" fill="#111"/>
<circle cx="325.5" cy="362.5" r="1.45" fill="#111"/>
<circle cx="319.1" cy="355.7" r="1.45" fill="#111"/>
<circle cx="317.5" cy="339.4" r="1.45" fill="#111"/>
<circle cx="327.9" cy="330.1" r="1.45" fill="#111"/>
<circle cx="410.0" cy="371.3" r="1.45" fill="#111"/>
<circle cx="337.8" cy="373.7" r="1.45" fill="#111"/>
<circle cx="327.7" cy="338.9" r="1.45" fill="#111"/>
<circle cx="397.4" cy="361.9" r="1.45" fill="#111"/>
<circle cx="315.8" cy="380.7" r="1.45" fill="#111"/>
<circle cx="328.0" cy="329.3" r="1.45" fill="#111"/>
<circle cx="388.5" cy="343.4" r="1.45" fill="#111"/>
<circle cx="337.0" cy="318.2" r="1.45" fill="#111"/>
<circle cx="314.7" cy="350.9" r="1.45" fill="#111"/>
<circle cx="331.2" cy="353.8" r="1.45" fill="#111"/>
<circle cx="345.1" cy="345.2" r="1.45" fill="#111"/>
<circle cx="408.7" cy="354.6" r="1.45" fill="#111"/>
<circle cx="367.1" cy="373.3" r="1.45" fill="#111"/>
<circle cx="324.7" cy="321.4" r="1.45" fill="#111"/>
<circle cx="403.2" cy="371.8" r="1.45" fill="#111"/>
<circle cx="331.9" cy="325.2" r="1.45" fill="#111"/>
<circle cx="384.9" cy="378.1" r="1.45" fill="#111"/>
<circle cx="326.2" cy="378.0" r="1.45" fill="#111"/>
<circle cx="400.4" cy="360.1" r="1.45" fill="#111"/>
<circle cx="350.5" cy="323.0" r="1.45" fill="#111"/>
<circle cx="309.1" cy="378.7" r="1.45" fill="#111"/>
<circle cx="330.7" cy="360.9" r="1.45" fill="#111"/>
<circle cx="332.7" cy="369.3" r="1.45" fill="#111"/>
<circle cx="369.5" cy="338.4" r="1.45" fill="#111"/>
<circle cx="323.9" cy="361.6" r="1.45" fill="#111"/>
<circle cx="312.3" cy="324.5" r="1.45" fill="#111"/>
<circle cx="365.4" cy="372.4" r="1.45" fill="#111"/>
<circle cx="371.4" cy="337.9" r="1.45" fill="#111"/>
<circle cx="404.2" cy="339.2" r="1.45" fill="#111"/>
<circle cx="306.7" cy="326.6" r="1.45" fill="#111"/>
<circle cx="353.1" cy="320.7" r="1.45" fill="#111"/>
<circle cx="324.0" cy="336.5" r="1.45" fill="#111"/>
<circle cx="366.8" cy="328.0" r="1.45" fill="#111"/>
<circle cx="344.1" cy="374.2" r="1.45" fill="#111"/>
<circle cx="411.0" cy="363.8" r="1.45" fill="#111"/>
<circle cx="379.7" cy="357.1" r="1.45" fill="#111"/>
<circle cx="320.1" cy="311.9" r="1.45" fill="#111"/>
<circle cx="306.8" cy="374.8" r="1.45" fill="#111"/>
<circle cx="380.8" cy="379.3" r="1.45" fill="#111"/>
<circle cx="307.2" cy="354.2" r="1.45" fill="#111"/>
<circle cx="357.1" cy="364.3" r="1.45" fill="#111"/>
<circle cx="339.4" cy="381.5" r="1.45" fill="#111"/>
<circle cx="313.0" cy="348.1" r="1.45" fill="#111"/>
<circle cx="384.7" cy="375.8" r="1.45" fill="#111"/>
<circle cx="384.7" cy="364.4" r="1.45" fill="#111"/>
<circle cx="390.8" cy="376.7" r="1.45" fill="#111"/>
<circle cx="343.0" cy="360.4" r="1.45" fill="#111"/>
<circle cx="402.4" cy="374.6" r="1.45" fill="#111"/>
<circle cx="350.0" cy="367.8" r="1.45" fill="#111"/>
<circle cx="398.3" cy="358.2" r="1.45" fill="#111"/>
<circle cx="372.5" cy="344.3" r="1.45" fill="#111"/>
<circle cx="368.0" cy="357.5" r="1.45" fill="#111"/>
<circle cx="313.6" cy="355.0" r="1.45" fill="#111"/>
<circle cx="412.4" cy="375.3" r="1.45" fill="#111"/>
<circle cx="383.7" cy="346.2" r="1.45" fill="#111"/>
<circle cx="384.4" cy="357.4" r="1.45" fill="#111"/>
<circle cx="352.6" cy="371.0" r="1.45" fill="#111"/>
<circle cx="314.0" cy="363.1" r="1.45" fill="#111"/>
<circle cx="308.1" cy="351.7" r="1.45" fill="#111"/>
<circle cx="357.0" cy="332.4" r="1.45" fill="#111"/>
<circle cx="380.5" cy="352.1" r="1.45" fill="#111"/>
<circle cx="371.4" cy="376.7" r="1.45" fill="#111"/>
<circle cx="332.6" cy="313.0" r="1.45" fill="#111"/>
<circle cx="337.5" cy="359.6" r="1.45" fill="#111"/>
<circle cx="326.8" cy="322.9" r="1.45" fill="#111"/>
<circle cx="402.9" cy="363.3" r="1.45" fill="#111"/>
<circle cx="352.7" cy="374.5" r="1.45" fill="#111"/>
<circle cx="340.3" cy="358.9" r="1.45" fill="#111"/>
<circle cx="326.4" cy="341.3" r="1.45" fill="#111"/>
<circle cx="392.1" cy="376.7" r="1.45" fill="#111"/>
<circle cx="400.2" cy="348.2" r="1.45" fill="#111"/>
<circle cx="368.0" cy="339.6" r="1.45" fill="#111"/>
<circle cx="319.6" cy="345.2" r="1.45" fill="#111"/>
<circle cx="395.5" cy="373.2" r="1.45" fill="#111"/>
<circle cx="381.9" cy="378.6" r="1.45" fill="#111"/>
<circle cx="334.9" cy="324.4" r="1.45" fill="#111"/>
<circle cx="353.7" cy="334.7" r="1.45" fill="#111"/>
<circle cx="328.1" cy="340.3" r="1.45" fill="#111"/>
<circle cx="372.6" cy="351.0" r="1.45" fill="#111"/>
<circle cx="339.0" cy="370.6" r="1.45" fill="#111"/>
<circle cx="411.2" cy="353.2" r="1.45" fill="#111"/>
<circle cx="313.0" cy="310.1" r="1.45" fill="#111"/>
<circle cx="399.4" cy="329.5" r="1.45" fill="#111"/>
<circle cx="381.6" cy="356.5" r="1.45" fill="#111"/>
<circle cx="338.3" cy="367.3" r="1.45" fill="#111"/>
<circle cx="307.0" cy="316.7" r="1.45" fill="#111"/>
<circle cx="354.1" cy="318.7" r="1.45" fill="#111"/>
<circle cx="394.7" cy="339.3" r="1.45" fill="#111"/>
<circle cx="320.1" cy="312.8" r="1.45" fill="#111"/>
<circle cx="373.0" cy="348.2" r="1.45" fill="#111"/>
<circle cx="373.1" cy="360.7" r="1.45" fill="#111"/>
<circle cx="392.3" cy="379.2" r="1.45" fill="#111"/>
<circle cx="379.0" cy="334.4" r="1.45" fill="#111"/>
<circle cx="356.3" cy="329.0" r="1.45" fill="#111"/>
<circle cx="306.1" cy="341.8" r="1.45" fill="#111"/>
<circle cx="382.2" cy="333.8" r="1.45" fill="#111"/>
<circle cx="334.4" cy="336.4" r="1.45" fill="#111"/>
<circle cx="380.4" cy="353.4" r="1.45" fill="#111"/>
<circle cx="371.4" cy="366.7" r="1.45" fill="#111"/>
<circle cx="347.5" cy="367.8" r="1.45" fill="#111"/>
<circle cx="403.0" cy="332.7" r="1.45" fill="#111"/>
<circle cx="405.8" cy="366.8" r="1.45" fill="#111"/>
<circle cx="319.0" cy="342.0" r="1.45" fill="#111"/>
<circle cx="372.6" cy="376.1" r="1.45" fill="#111"/>
<circle cx="345.7" cy="352.9" r="1.45" fill="#111"/>
<circle cx="400.1" cy="370.5" r="1.45" fill="#111"/>
<circle cx="407.1" cy="353.3" r="1.45" fill="#111"/>
<circle cx="375.4" cy="334.1" r="1.45" fill="#111"/>
<circle cx="383.0" cy="371.0" r="1.45" fill="#111"/>
<circle cx="374.3" cy="364.6" r="1.45" fill="#111"/>
<circle cx="328.0" cy="374.5" r="1.45" fill="#111"/>
<circle cx="411.0" cy="380.3" r="1.45" fill="#111"/>
<circle cx="363.0" cy="368.4" r="1.45" fill="#111"/>
<circle cx="339.6" cy="375.4" r="1.45" fill="#111"/>
<circle cx="397.5" cy="345.9" r="1.45" fill="#111"/>
<circle cx="313.9" cy="340.4" r="1.45" fill="#111"/>
<circle cx="364.5" cy="367.1" r="1.45" fill="#111"/>
<circle cx="357.7" cy="319.7" r="1.45" fill="#111"/>
<circle cx="392.5" cy="329.3" r="1.45" fill="#111"/>
<circle cx="391.5" cy="335.1" r="1.45" fill="#111"/>
<circle cx="341.2" cy="367.2" r="1.45" fill="#111"/>
<circle cx="320.1" cy="320.1" r="1.45" fill="#111"/>
<circle cx="360.8" cy="364.1" r="1.45" fill="#111"/>
<circle cx="395.8" cy="364.4" r="1.45" fill="#111"/>
<circle cx="407.3" cy="354.9" r="1.45" fill="#111"/>
<circle cx="407.6" cy="333.6" r="1.45" fill="#111"/>
<circle cx="328.9" cy="348.3" r="1.45" fill="#111"/>
<circle cx="336.3" cy="362.9" r="1.45" fill="#111"/>
<circle cx="374.0" cy="352.9" r="1.45" fill="#111"/>
<circle cx="396.2" cy="357.3" r="1.45" fill="#111"/>
<circle cx="338.6" cy="339.5" r="1.45" fill="#111"/>
<circle cx="396.4" cy="376.0" r="1.45" fill="#111"/>
<circle cx="327.4" cy="371.0" r="1.45" fill="#111"/>
<circle cx="409.7" cy="356.8" r="1.45" fill="#111"/>
<circle cx="366.9" cy="332.3" r="1.45" fill="#111"/>
<circle cx="362.9" cy="350.5" r="1.45" fill="#111"/>
<circle cx="370.4" cy="322.4" r="1.45" fill="#111"/>
<circle cx="409.8" cy="356.4" r="1.45" fill="#111"/>
<circle cx="348.3" cy="368.4" r="1.45" fill="#111"/>
<circle cx="365.8" cy="350.0" r="1.45" fill="#111"/>
<circle cx="379.7" cy="326.7" r="1.45" fill="#111"/>
<circle cx="363.2" cy="344.9" r="1.45" fill="#111"/>
<circle cx="408.5" cy="377.5" r="1.45" fill="#111"/>
<circle cx="334.0" cy="345.2" r="1.45" fill="#111"/>
<circle cx="318.6" cy="340.5" r="1.45" fill="#111"/>
<circle cx="393.2" cy="376.0" r="1.45" fill="#111"/>
<circle cx="356.5" cy="337.9" r="1.45" fill="#111"/>
<circle cx="325.6" cy="354.4" r="1.45" fill="#111"/>
<circle cx="405.0" cy="335.4" r="1.45" fill="#111"/>
<circle cx="389.2" cy="326.2" r="1.45" fill="#111"/>
<circle cx="325.9" cy="326.8" r="1.45" fill="#111"/>
<circle cx="379.3" cy="341.6" r="1.45" fill="#111"/>
<circle cx="343.4" cy="356.1" r="1.45" fill="#111"/>
<circle cx="316.3" cy="361.9" r="1.45" fill="#111"/>
<circle cx="318.2" cy="346.0" r="1.45" fill="#111"/>
<circle cx="332.0" cy="325.8" r="1.45" fill="#111"/>
<circle cx="362.3" cy="346.2" r="1.45" fill="#111"/>
<circle cx="345.6" cy="342.6" r="1.45" fill="#111"/>
<circle cx="362.2" cy="328.9" r="1.45" fill="#111"/>
<circle cx="327.0" cy="355.5" r="1.45" fill="#111"/>
<circle cx="374.0" cy="353.3" r="1.45" fill="#111"/>
<circle cx="397.0" cy="360.2" r="1.45" fill="#111"/>
<circle cx="397.6" cy="339.6" r="1.45" fill="#111"/>
<circle cx="385.1" cy="370.6" r="1.45" fill="#111"/>
<circle cx="402.6" cy="344.9" r="1.45" fill="#111"/>
<circle cx="339.0" cy="376.3" r="1.45" fill="#111"/>
<circle cx="328.5" cy="381.4" r="1.45" fill="#111"/>
<circle cx="401.0" cy="334.8" r="1.45" fill="#111"/>
<circle cx="330.8" cy="362.4" r="1.45" fill="#111"/>
<circle cx="333.0" cy="319.0" r="1.45" fill="#111"/>
<circle cx="395.0" cy="349.5" r="1.45" fill="#111"/>
<circle cx="390.4" cy="332.3" r="1.45" fill="#111"/>
<circle cx="348.5" cy="360.8" r="1.45" fill="#111"/>
<circle cx="306.8" cy="321.5" r="1.45" fill="#111"/>
<circle cx="378.8" cy="376.3" r="1.45" fill="#111"/>
<circle cx="409.7" cy="335.5" r="1.45" fill="#111"/>
<circle cx="359.6" cy="366.2" r="1.45" fill="#111"/>
<circle cx="359.3" cy="361.6" r="1.45" fill="#111"/>
<circle cx="325.4" cy="315.6" r="1.45" fill="#111"/>
<circle cx="316.4" cy="311.3" r="1.45" fill="#111"/>
<circle cx="364.6" cy="351.4" r="1.45" fill="#111"/>
<circle cx="366.5" cy="328.9" r="1.45" fill="#111"/>
<circle cx="324.9" cy="325.0" r="1.45" fill="#111"/>
<circle cx="395.8" cy="381.0" r="1.45" fill="#111"/>
<circle cx="405.2" cy="333.6" r="1.45" fill="#111"/>
<circle cx="311.6" cy="377.9" r="1.45" fill="#111"/>
<circle cx="354.9" cy="366.4" r="1.45" fill="#111"/>
<circle cx="340.3" cy="345.5" r="1.45" fill="#111"/>
<circle cx="360.7" cy="345.6" r="1.45" fill="#111"/>
<circle cx="369.9" cy="321.4" r="1.45" fill="#111"/>
<circle cx="380.8" cy="372.4" r="1.45" fill="#111"/>
<circle cx="324.5" cy="342.7" r="1.45" fill="#111"/>
<circle cx="384.9" cy="347.3" r="1.45" fill="#111"/>
<circle cx="326.0" cy="322.4" r="1.45" fill="#111"/>
<circle cx="360.4" cy="319.4" r="1.45" fill="#111"/>
<circle cx="401.6" cy="370.8" r="1.45" fill="#111"/>
<circle cx="381.2" cy="373.4" r="1.45" fill="#111"/>
<circle cx="373.0" cy="345.7" r="1.45" fill="#111"/>
<circle cx="369.8" cy="351.3" r="1.45" fill="#111"/>
<circle cx="411.2" cy="371.4" r="1.45" fill="#111"/>
<circle cx="332.9" cy="375.4" r="1.45" fill="#111"/>
<circle cx="385.5" cy="368.8" r="1.45" fill="#111"/>
<circle cx="393.1" cy="348.4" r="1.45" fill="#111"/>
<circle cx="401.9" cy="375.0" r="1.45" fill="#111"/>
<circle cx="380.1" cy="367.9" r="1.45" fill="#111"/>
<circle cx="387.7" cy="347.7" r="1.45" fill="#111"/>
<circle cx="383.1" cy="327.7" r="1.45" fill="#111"/>
<circle cx="341.9" cy="345.8" r="1.45" fill="#111"/>
<circle cx="306.0" cy="333.0" r="1.45" fill="#111"/>
<circle cx="374.0" cy="359.0" r="1.45" fill="#111"/>
<circle cx="330.0" cy="377.6" r="1.45" fill="#111"/>
<circle cx="377.0" cy="342.2" r="1.45" fill="#111"/>
<circle cx="376.3" cy="355.9" r="1.45" fill="#111"/>
<circle cx="362.6" cy="343.3" r="1.45" fill="#111"/>
<circle cx="413.1" cy="363.2" r="1.45" fill="#111"/>
<circle cx="380.8" cy="367.6" r="1.45" fill="#111"/>
<circle cx="411.0" cy="331.0" r="1.45" fill="#111"/>
<circle cx="371.5" cy="365.7" r="1.45" fill="#111"/>
<circle cx="332.7" cy="340.1" r="1.45" fill="#111"/>
<circle cx="310.4" cy="321.7" r="1.45" fill="#111"/>
<circle cx="345.6" cy="321.7" r="1.45" fill="#111"/>
<circle cx="332.1" cy="375.0" r="1.45" fill="#111"/>
<circle cx="364.4" cy="350.9" r="1.45" fill="#111"/>
<circle cx="409.6" cy="359.0" r="1.45" fill="#111"/>
<circle cx="412.6" cy="362.9" r="1.45" fill="#111"/>
<circle cx="392.5" cy="329.9" r="1.45" fill="#111"/>
<circle cx="369.6" cy="366.8" r="1.45" fill="#111"/>
<circle cx="309.8" cy="376.3" r="1.45" fill="#111"/>
<circle cx="322.2" cy="343.7" r="1.45" fill="#111"/>
<circle cx="323.2" cy="345.5" r="1.45" fill="#111"/>
<circle cx="371.0" cy="324.4" r="1.45" fill="#111"/>
<circle cx="407.2" cy="351.1" r="1.45" fill="#111"/>
<circle cx="361.9" cy="356.3" r="1.45" fill="#111"/>
<circle cx="344.5" cy="333.9" r="1.45" fill="#111"/>
<circle cx="375.8" cy="355.3" r="1.45" fill="#111"/>
<circle cx="335.6" cy="362.1" r="1.45" fill="#111"/>
<circle cx="336.9" cy="314.2" r="1.45" fill="#111"/>
<circle cx="331.4" cy="314.9" r="1.45" fill="#111"/>
<circle cx="321.8" cy="363.9" r="1.45" fill="#111"/>
<circle cx="347.1" cy="374.7" r="1.45" fill="#111"/>
<circle cx="385.9" cy="327.1" r="1.45" fill="#111"/>
<circle cx="411.9" cy="378.6" r="1.45" fill="#111"/>
<circle cx="312.9" cy="374.5" r="1.45" fill="#111"/>
<circle cx="351.4" cy="347.5" r="1.45" fill="#111"/>
<circle cx="410.2" cy="342.3" r="1.45" fill="#111"/>
<circle cx="361.5" cy="377.6" r="1.45" fill="#111"/>
<circle cx="383.1" cy="350.7" r="1.45" fill="#111"/>
<circle cx="410.8" cy="372.0" r="1.45" fill="#111"/>
<circle cx="370.2" cy="327.7" r="1.45" fill="#111"/>
<circle cx="372.5" cy="348.7" r="1.45" fill="#111"/>
<circle cx="326.9" cy="314.6" r="1.45" fill="#111"/>
<circle cx="362.1" cy="326.6" r="1.45" fill="#111"/>
<circle cx="352.8" cy="360.0" r="1.45" fill="#111"/>
<circle cx="354.2" cy="334.0" r="1.45" fill="#111"/>
<circle cx="367.9" cy="345.9" r="1.45" fill="#111"/>
<circle cx="389.1" cy="355.0" r="1.45" fill="#111"/>
<circle cx="412.9" cy="379.1" r="1.45" fill="#111"/>
<circle cx="384.4" cy="337.6" r="1.45" fill="#111"/>
<circle cx="317.2" cy="373.7" r="1.45" fill="#111"/>
<circle cx="389.8" cy="360.3" r="1.45" fill="#111"/>
<circle cx="343.8" cy="332.9" r="1.45" fill="#111"/>
<circle cx="379.0" cy="355.9" r="1.45" fill="#111"/>
<circle cx="368.9" cy="359.1" r="1.45" fill="#111"/>
<circle cx="386.4" cy="335.2" r="1.45" fill="#111"/>
<circle cx="331.8" cy="380.1" r="1.45" fill="#111"/>
<circle cx="404.0" cy="375.0" r="1.45" fill="#111"/>
<circle cx="309.2" cy="311.5" r="1.45" fill="#111"/>
<circle cx="334.2" cy="341.9" r="1.45" fill="#111"/>
<circle cx="372.4" cy="327.3" r="1.45" fill="#111"/>
<circle cx="363.5" cy="323.7" r="1.45" fill="#111"/>
<circle cx="314.3" cy="357.7" r="1.45" fill="#111"/>
<circle cx="364.5" cy="358.6" r="1.45" fill="#111"/>
<circle cx="345.3" cy="346.9" r="1.45" fill="#111"/>
<circle cx="327.7" cy="335.3" r="1.45" fill="#111"/>
<circle cx="385.5" cy="372.2" r="1.45" fill="#111"/>
<circle cx="312.9" cy="316.6" r="1.45" fill="#111"/>
<circle cx="392.5" cy="360.5" r="1.45" fill="#111"/>
<circle cx="388.1" cy="336.8" r="1.45" fill="#111"/>
<circle cx="350.8" cy="333.1" r="1.45" fill="#111"/>
<circle cx="392.5" cy="346.3" r="1.45" fill="#111"/>
<circle cx="375.6" cy="380.9" r="1.45" fill="#111"/>
<circle cx="340.1" cy="351.0" r="1.45" fill="#111"/>
<circle cx="385.6" cy="377.0" r="1.45" fill="#111"/>
<circle cx="351.2" cy="340.4" r="1.45" fill="#111"/>
<circle cx="315.4" cy="372.4" r="1.45" fill="#111"/>
<circle cx="313.4" cy="314.0" r="1.45" fill="#111"/>
<circle cx="366.0" cy="349.7" r="1.45" fill="#111"/>
<circle cx="379.1" cy="340.3" r="1.45" fill="#111"/>
<circle cx="388.8" cy="329.2" r="1.45" fill="#111"/>
<circle cx="328.0" cy="357.7" r="1.45" fill="#111"/>
<circle cx="313.7" cy="330.3" r="1.45" fill="#111"/>
<circle cx="383.4" cy="363.8" r="1.45" fill="#111"/>
<circle cx="335.5" cy="322.7" r="1.45" fill="#111"/>
<circle cx="343.6" cy="363.2" r="1.45" fill="#111"/>
<circle cx="344.6" cy="322.7" r="1.45" fill="#111"/>
<circle cx="381.7" cy="356.4" r="1.45" fill="#111"/>
<circle cx="404.3" cy="378.3" r="1.45" fill="#111"/>
<circle cx="403.7" cy="351.6" r="1.45" fill="#111"/>
<circle cx="391.8" cy="342.6" r="1.45" fill="#111"/>
<circle cx="339.3" cy="340.8" r="1.45" fill="#111"/>
<circle cx="406.1" cy="375.9" r="1.45" fill="#111"/>
<circle cx="331.8" cy="337.2" r="1.45" fill="#111"/>
<circle cx="344.5" cy="339.1" r="1.45" fill="#111"/>
<circle cx="347.7" cy="341.2" r="1.45" fill="#111"/>
<circle cx="326.0" cy="350.6" r="1.45" fill="#111"/>
<circle cx="391.2" cy="355.7" r="1.45" fill="#111"/>
<circle cx="395.4" cy="357.4" r="1.45" fill="#111"/>
<circle cx="324.0" cy="364.3" r="1.45" fill="#111"/>
<circle cx="400.2" cy="342.6" r="1.45" fill="#111"/>
<circle cx="307.3" cy="345.2" r="1.45" fill="#111"/>
<circle cx="363.8" cy="354.6" r="1.45" fill="#111"/>
<circle cx="409.5" cy="363.4" r="1.45" fill="#111"/>
<circle cx="391.9" cy="329.1" r="1.45" fill="#111"/>
<circle cx="364.1" cy="368.3" r="1.45" fill="#111"/>
<circle cx="314.0" cy="314.0" r="1.45" fill="#111"/>
<circle cx="384.7" cy="375.7" r="1.45" fill="#111"/>
<circle cx="314.1" cy="354.6" r="1.45" fill="#111"/>
<circle cx="320.5" cy="363.2" r="1.45" fill="#111"/>
<circle cx="375.1" cy="336.4" r="1.45" fill="#111"/>
<circle cx="328.8" cy="365.0" r="1.45" fill="#111"/>
<circle cx="361.3" cy="366.7" r="1.45" fill="#111"/>
<circle cx="347.6" cy="337.9" r="1.45" fill="#111"/>
<circle cx="409.7" cy="364.5" r="1.45" fill="#111"/>
<circle cx="358.3" cy="352.1" r="1.45" fill="#111"/>
<circle cx="382.9" cy="364.6" r="1.45" fill="#111"/>
<circle cx="403.9" cy="350.1" r="1.45" fill="#111"/>
<circle cx="394.3" cy="363.0" r="1.45" fill="#111"/>
<circle cx="397.3" cy="370.9" r="1.45" fill="#111"/>
<circle cx="395.1" cy="375.4" r="1.45" fill="#111"/>
<circle cx="408.6" cy="362.7" r="1.45" fill="#111"/>
<circle cx="361.6" cy="363.3" r="1.45" fill="#111"/>
<circle cx="391.7" cy="349.1" r="1.45" fill="#111"/>
<circle cx="350.4" cy="325.8" r="1.45" fill="#111"/>
<circle cx="385.1" cy="381.0" r="1.45" fill="#111"/>
<circle cx="345.5" cy="326.3" r="1.45" fill="#111"/>
<circle cx="327.0" cy="340.9" r="1.45" fill="#111"/>
<circle cx="336.5" cy="379.4" r="1.45" fill="#111"/>
<circle cx="311.3" cy="330.3" r="1.45" fill="#111"/>
<circle cx="317.3" cy="355.9" r="1.45" fill="#111"/>
<circle cx="388.9" cy="335.0" r="1.45" fill="#111"/>
<circle cx="311.6" cy="341.5" r="1.45" fill="#111"/>
<circle cx="368.1" cy="375.9" r="1.45" fill="#111"/>
<circle cx="308.8" cy="315.0" r="1.45" fill="#111"/>
<circle cx="324.9" cy="325.9" r="1.45" fill="#111"/>
<circle cx="330.4" cy="361.8" r="1.45" fill="#111"/>
<circle cx="369.3" cy="334.1" r="1.45" fill="#111"/>
<circle cx="324.9" cy="330.5" r="1.45" fill="#111"/>
<circle cx="323.6" cy="364.2" r="1.45" fill="#111"/>
<circle cx="338.6" cy="350.8" r="1.45" fill="#111"/>
<circle cx="393.3" cy="352.5" r="1.45" fill="#111"/>
<circle cx="333.1" cy="373.7" r="1.45" fill="#111"/>
<circle cx="403.8" cy="346.5" r="1.45" fill="#111"/>
<circle cx="364.1" cy="378.8" r="1.45" fill="#111"/>
<circle cx="357.1" cy="331.8" r="1.45" fill="#111"/>
<circle cx="310.3" cy="377.6" r="1.45" fill="#111"/>
<circle cx="391.6" cy="347.1" r="1.45" fill="#111"/>
<circle cx="362.0" cy="351.2" r="1.45" fill="#111"/>
<circle cx="334.6" cy="380.8" r="1.45" fill="#111"/>
<circle cx="376.1" cy="336.1" r="1.45" fill="#111"/>
<circle cx="306.1" cy="341.8" r="1.45" fill="#111"/>
<line x1="304.9" y1="346.6" x2="414.9" y2="355.3" stroke="#8fcb92" stroke-width="3.2" stroke-linecap="butt"/>
<line x1="428.3" y1="302.2" x2="428.3" y2="385.6" stroke="#231f20" stroke-width="2" stroke-linecap="butt"/>
<line x1="427.3" y1="384.6" x2="548.2" y2="384.6" stroke="#231f20" stroke-width="2" stroke-linecap="butt"/>
<text x="433.8" y="398.4" font-size="11" font-weight="bold" font-style="normal" text-anchor="middle" fill="#231f20" >5</text>
<text x="469.2" y="398.4" font-size="11" font-weight="bold" font-style="normal" text-anchor="middle" fill="#231f20" >10</text>
<text x="504.6" y="398.4" font-size="11" font-weight="bold" font-style="normal" text-anchor="middle" fill="#231f20" >15</text>
<text x="540.0" y="398.4" font-size="11" font-weight="bold" font-style="normal" text-anchor="middle" fill="#231f20" >20</text>
<circle cx="484.9" cy="343.5" r="1.45" fill="#111"/>
<circle cx="505.5" cy="327.2" r="1.45" fill="#111"/>
<circle cx="435.0" cy="325.3" r="1.45" fill="#111"/>
<circle cx="463.3" cy="348.6" r="1.45" fill="#111"/>
<circle cx="508.1" cy="343.4" r="1.45" fill="#111"/>
<circle cx="493.9" cy="344.3" r="1.45" fill="#111"/>
<circle cx="449.4" cy="330.4" r="1.45" fill="#111"/>
<circle cx="451.3" cy="352.6" r="1.45" fill="#111"/>
<circle cx="440.1" cy="348.0" r="1.45" fill="#111"/>
<circle cx="441.8" cy="341.6" r="1.45" fill="#111"/>
<circle cx="470.1" cy="331.5" r="1.45" fill="#111"/>
<circle cx="524.5" cy="327.1" r="1.45" fill="#111"/>
<circle cx="440.3" cy="352.8" r="1.45" fill="#111"/>
<circle cx="488.6" cy="321.9" r="1.45" fill="#111"/>
<circle cx="540.0" cy="355.6" r="1.45" fill="#111"/>
<circle cx="445.9" cy="329.2" r="1.45" fill="#111"/>
<circle cx="448.3" cy="324.2" r="1.45" fill="#111"/>
<circle cx="500.7" cy="327.0" r="1.45" fill="#111"/>
<circle cx="508.8" cy="324.7" r="1.45" fill="#111"/>
<circle cx="452.2" cy="348.4" r="1.45" fill="#111"/>
<circle cx="476.9" cy="333.0" r="1.45" fill="#111"/>
<circle cx="497.9" cy="337.9" r="1.45" fill="#111"/>
<circle cx="475.2" cy="316.6" r="1.45" fill="#111"/>
<circle cx="512.0" cy="355.9" r="1.45" fill="#111"/>
<circle cx="538.9" cy="347.8" r="1.45" fill="#111"/>
<circle cx="472.1" cy="330.0" r="1.45" fill="#111"/>
<circle cx="508.1" cy="345.8" r="1.45" fill="#111"/>
<circle cx="446.1" cy="320.1" r="1.45" fill="#111"/>
<circle cx="472.9" cy="336.4" r="1.45" fill="#111"/>
<circle cx="521.0" cy="341.4" r="1.45" fill="#111"/>
<circle cx="436.8" cy="348.1" r="1.45" fill="#111"/>
<circle cx="480.1" cy="337.5" r="1.45" fill="#111"/>
<circle cx="457.7" cy="330.9" r="1.45" fill="#111"/>
<circle cx="475.6" cy="347.5" r="1.45" fill="#111"/>
<circle cx="444.8" cy="335.2" r="1.45" fill="#111"/>
<circle cx="453.0" cy="342.8" r="1.45" fill="#111"/>
<circle cx="437.8" cy="320.8" r="1.45" fill="#111"/>
<circle cx="470.8" cy="341.5" r="1.45" fill="#111"/>
<circle cx="439.4" cy="330.1" r="1.45" fill="#111"/>
<circle cx="456.3" cy="324.0" r="1.45" fill="#111"/>
<circle cx="485.1" cy="355.4" r="1.45" fill="#111"/>
<circle cx="485.6" cy="355.3" r="1.45" fill="#111"/>
<circle cx="451.8" cy="353.4" r="1.45" fill="#111"/>
<circle cx="473.0" cy="322.8" r="1.45" fill="#111"/>
<circle cx="514.4" cy="354.1" r="1.45" fill="#111"/>
<circle cx="434.5" cy="319.8" r="1.45" fill="#111"/>
<circle cx="516.7" cy="335.8" r="1.45" fill="#111"/>
<circle cx="459.8" cy="312.3" r="1.45" fill="#111"/>
<circle cx="438.1" cy="337.9" r="1.45" fill="#111"/>
<circle cx="539.7" cy="357.0" r="1.45" fill="#111"/>
<circle cx="488.0" cy="319.2" r="1.45" fill="#111"/>
<circle cx="468.5" cy="347.8" r="1.45" fill="#111"/>
<circle cx="523.3" cy="345.9" r="1.45" fill="#111"/>
<circle cx="458.5" cy="335.5" r="1.45" fill="#111"/>
<circle cx="485.2" cy="342.3" r="1.45" fill="#111"/>
<circle cx="462.1" cy="354.6" r="1.45" fill="#111"/>
<circle cx="530.0" cy="332.5" r="1.45" fill="#111"/>
<circle cx="465.2" cy="351.4" r="1.45" fill="#111"/>
<circle cx="463.8" cy="354.5" r="1.45" fill="#111"/>
<circle cx="489.2" cy="345.3" r="1.45" fill="#111"/>
<circle cx="509.6" cy="330.4" r="1.45" fill="#111"/>
<circle cx="464.5" cy="324.2" r="1.45" fill="#111"/>
<circle cx="507.3" cy="346.5" r="1.45" fill="#111"/>
<circle cx="448.0" cy="351.6" r="1.45" fill="#111"/>
<circle cx="479.0" cy="326.1" r="1.45" fill="#111"/>
<circle cx="480.6" cy="356.2" r="1.45" fill="#111"/>
<circle cx="494.1" cy="343.0" r="1.45" fill="#111"/>
<circle cx="532.8" cy="355.9" r="1.45" fill="#111"/>
<circle cx="515.6" cy="338.1" r="1.45" fill="#111"/>
<circle cx="497.1" cy="353.4" r="1.45" fill="#111"/>
<circle cx="518.7" cy="343.6" r="1.45" fill="#111"/>
<circle cx="471.2" cy="330.1" r="1.45" fill="#111"/>
<circle cx="513.0" cy="342.5" r="1.45" fill="#111"/>
<circle cx="435.6" cy="342.3" r="1.45" fill="#111"/>
<circle cx="531.1" cy="351.1" r="1.45" fill="#111"/>
<circle cx="530.4" cy="354.4" r="1.45" fill="#111"/>
<circle cx="491.4" cy="349.0" r="1.45" fill="#111"/>
<circle cx="474.6" cy="319.3" r="1.45" fill="#111"/>
<circle cx="471.8" cy="327.8" r="1.45" fill="#111"/>
<circle cx="534.3" cy="348.2" r="1.45" fill="#111"/>
<circle cx="492.1" cy="342.7" r="1.45" fill="#111"/>
<circle cx="447.2" cy="334.7" r="1.45" fill="#111"/>
<circle cx="509.2" cy="336.4" r="1.45" fill="#111"/>
<circle cx="460.2" cy="330.3" r="1.45" fill="#111"/>
<circle cx="468.6" cy="343.4" r="1.45" fill="#111"/>
<circle cx="449.1" cy="313.8" r="1.45" fill="#111"/>
<circle cx="467.4" cy="343.8" r="1.45" fill="#111"/>
<circle cx="515.5" cy="345.9" r="1.45" fill="#111"/>
<circle cx="534.4" cy="339.1" r="1.45" fill="#111"/>
<circle cx="437.0" cy="331.2" r="1.45" fill="#111"/>
<circle cx="481.5" cy="324.0" r="1.45" fill="#111"/>
<circle cx="505.6" cy="334.1" r="1.45" fill="#111"/>
<circle cx="459.4" cy="326.6" r="1.45" fill="#111"/>
<circle cx="535.4" cy="329.2" r="1.45" fill="#111"/>
<circle cx="472.6" cy="326.6" r="1.45" fill="#111"/>
<circle cx="455.5" cy="330.8" r="1.45" fill="#111"/>
<circle cx="457.5" cy="353.3" r="1.45" fill="#111"/>
<circle cx="487.7" cy="345.3" r="1.45" fill="#111"/>
<circle cx="451.3" cy="331.8" r="1.45" fill="#111"/>
<circle cx="499.1" cy="351.3" r="1.45" fill="#111"/>
<circle cx="460.7" cy="332.7" r="1.45" fill="#111"/>
<circle cx="525.8" cy="351.9" r="1.45" fill="#111"/>
<circle cx="458.3" cy="336.0" r="1.45" fill="#111"/>
<circle cx="515.7" cy="337.4" r="1.45" fill="#111"/>
<circle cx="506.3" cy="345.3" r="1.45" fill="#111"/>
<circle cx="538.4" cy="344.8" r="1.45" fill="#111"/>
<circle cx="507.1" cy="334.6" r="1.45" fill="#111"/>
<circle cx="512.6" cy="334.5" r="1.45" fill="#111"/>
<circle cx="487.6" cy="332.2" r="1.45" fill="#111"/>
<circle cx="466.9" cy="319.4" r="1.45" fill="#111"/>
<circle cx="458.1" cy="336.3" r="1.45" fill="#111"/>
<circle cx="460.9" cy="314.2" r="1.45" fill="#111"/>
<circle cx="520.3" cy="334.5" r="1.45" fill="#111"/>
<circle cx="534.5" cy="345.7" r="1.45" fill="#111"/>
<circle cx="475.7" cy="351.7" r="1.45" fill="#111"/>
<circle cx="530.4" cy="337.2" r="1.45" fill="#111"/>
<circle cx="447.3" cy="339.8" r="1.45" fill="#111"/>
<circle cx="524.5" cy="345.1" r="1.45" fill="#111"/>
<circle cx="518.2" cy="338.2" r="1.45" fill="#111"/>
<circle cx="500.3" cy="330.5" r="1.45" fill="#111"/>
<circle cx="477.6" cy="331.5" r="1.45" fill="#111"/>
<circle cx="475.2" cy="332.0" r="1.45" fill="#111"/>
<circle cx="520.7" cy="331.0" r="1.45" fill="#111"/>
<circle cx="455.9" cy="322.7" r="1.45" fill="#111"/>
<circle cx="538.3" cy="343.9" r="1.45" fill="#111"/>
<circle cx="439.5" cy="348.8" r="1.45" fill="#111"/>
<circle cx="527.8" cy="351.7" r="1.45" fill="#111"/>
<circle cx="472.4" cy="345.8" r="1.45" fill="#111"/>
<circle cx="466.7" cy="319.4" r="1.45" fill="#111"/>
<circle cx="526.9" cy="352.0" r="1.45" fill="#111"/>
<circle cx="456.5" cy="351.5" r="1.45" fill="#111"/>
<circle cx="436.4" cy="322.1" r="1.45" fill="#111"/>
<circle cx="435.2" cy="315.0" r="1.45" fill="#111"/>
<circle cx="451.4" cy="343.6" r="1.45" fill="#111"/>
<circle cx="465.7" cy="321.5" r="1.45" fill="#111"/>
<circle cx="453.6" cy="325.0" r="1.45" fill="#111"/>
<circle cx="526.6" cy="345.2" r="1.45" fill="#111"/>
<circle cx="444.8" cy="341.7" r="1.45" fill="#111"/>
<circle cx="491.5" cy="336.1" r="1.45" fill="#111"/>
<circle cx="490.6" cy="343.7" r="1.45" fill="#111"/>
<circle cx="520.0" cy="341.4" r="1.45" fill="#111"/>
<circle cx="502.2" cy="338.1" r="1.45" fill="#111"/>
<circle cx="502.0" cy="335.2" r="1.45" fill="#111"/>
<circle cx="478.4" cy="337.2" r="1.45" fill="#111"/>
<circle cx="510.7" cy="332.8" r="1.45" fill="#111"/>
<circle cx="533.3" cy="342.5" r="1.45" fill="#111"/>
<circle cx="525.9" cy="347.7" r="1.45" fill="#111"/>
<circle cx="536.7" cy="348.2" r="1.45" fill="#111"/>
<circle cx="479.7" cy="332.9" r="1.45" fill="#111"/>
<circle cx="499.2" cy="348.1" r="1.45" fill="#111"/>
<circle cx="524.1" cy="330.4" r="1.45" fill="#111"/>
<circle cx="440.5" cy="312.9" r="1.45" fill="#111"/>
<circle cx="442.9" cy="310.8" r="1.45" fill="#111"/>
<circle cx="434.7" cy="318.9" r="1.45" fill="#111"/>
<circle cx="446.0" cy="341.8" r="1.45" fill="#111"/>
<circle cx="500.1" cy="355.8" r="1.45" fill="#111"/>
<circle cx="537.2" cy="350.0" r="1.45" fill="#111"/>
<circle cx="536.0" cy="329.9" r="1.45" fill="#111"/>
<circle cx="458.3" cy="353.6" r="1.45" fill="#111"/>
<circle cx="485.0" cy="325.7" r="1.45" fill="#111"/>
<circle cx="515.2" cy="338.2" r="1.45" fill="#111"/>
<circle cx="492.2" cy="331.1" r="1.45" fill="#111"/>
<circle cx="459.8" cy="315.8" r="1.45" fill="#111"/>
<circle cx="499.1" cy="355.3" r="1.45" fill="#111"/>
<circle cx="540.0" cy="350.7" r="1.45" fill="#111"/>
<circle cx="534.2" cy="339.0" r="1.45" fill="#111"/>
<circle cx="465.9" cy="353.7" r="1.45" fill="#111"/>
<circle cx="498.4" cy="345.0" r="1.45" fill="#111"/>
<circle cx="435.1" cy="317.9" r="1.45" fill="#111"/>
<circle cx="485.7" cy="346.4" r="1.45" fill="#111"/>
<circle cx="522.7" cy="349.5" r="1.45" fill="#111"/>
<circle cx="470.4" cy="330.6" r="1.45" fill="#111"/>
<circle cx="526.6" cy="356.7" r="1.45" fill="#111"/>
<circle cx="486.0" cy="325.4" r="1.45" fill="#111"/>
<circle cx="501.0" cy="340.4" r="1.45" fill="#111"/>
<circle cx="472.7" cy="324.5" r="1.45" fill="#111"/>
<circle cx="475.3" cy="340.9" r="1.45" fill="#111"/>
<circle cx="447.4" cy="335.0" r="1.45" fill="#111"/>
<circle cx="536.3" cy="349.9" r="1.45" fill="#111"/>
<circle cx="460.9" cy="330.9" r="1.45" fill="#111"/>
<circle cx="444.8" cy="344.2" r="1.45" fill="#111"/>
<circle cx="501.8" cy="327.5" r="1.45" fill="#111"/>
<circle cx="492.8" cy="341.8" r="1.45" fill="#111"/>
<circle cx="495.9" cy="334.0" r="1.45" fill="#111"/>
<circle cx="467.1" cy="329.0" r="1.45" fill="#111"/>
<circle cx="541.2" cy="339.1" r="1.45" fill="#111"/>
<circle cx="487.9" cy="336.1" r="1.45" fill="#111"/>
<circle cx="452.4" cy="328.9" r="1.45" fill="#111"/>
<circle cx="455.9" cy="325.8" r="1.45" fill="#111"/>
<circle cx="473.3" cy="329.6" r="1.45" fill="#111"/>
<circle cx="534.7" cy="337.2" r="1.45" fill="#111"/>
<circle cx="469.6" cy="342.3" r="1.45" fill="#111"/>
<circle cx="476.6" cy="337.0" r="1.45" fill="#111"/>
<circle cx="503.5" cy="324.3" r="1.45" fill="#111"/>
<circle cx="506.1" cy="325.8" r="1.45" fill="#111"/>
<circle cx="460.7" cy="348.5" r="1.45" fill="#111"/>
<circle cx="540.3" cy="348.2" r="1.45" fill="#111"/>
<circle cx="452.3" cy="330.7" r="1.45" fill="#111"/>
<circle cx="464.2" cy="350.0" r="1.45" fill="#111"/>
<circle cx="458.9" cy="320.6" r="1.45" fill="#111"/>
<circle cx="502.5" cy="344.1" r="1.45" fill="#111"/>
<circle cx="497.3" cy="337.9" r="1.45" fill="#111"/>
<circle cx="537.0" cy="342.0" r="1.45" fill="#111"/>
<circle cx="534.6" cy="339.8" r="1.45" fill="#111"/>
<circle cx="483.9" cy="331.6" r="1.45" fill="#111"/>
<circle cx="510.8" cy="348.6" r="1.45" fill="#111"/>
<circle cx="459.5" cy="335.6" r="1.45" fill="#111"/>
<circle cx="512.0" cy="340.4" r="1.45" fill="#111"/>
<circle cx="505.1" cy="343.6" r="1.45" fill="#111"/>
<circle cx="510.7" cy="335.3" r="1.45" fill="#111"/>
<circle cx="466.8" cy="314.5" r="1.45" fill="#111"/>
<circle cx="529.6" cy="350.8" r="1.45" fill="#111"/>
<circle cx="475.8" cy="355.6" r="1.45" fill="#111"/>
<circle cx="530.9" cy="332.3" r="1.45" fill="#111"/>
<circle cx="523.8" cy="339.2" r="1.45" fill="#111"/>
<circle cx="467.6" cy="324.9" r="1.45" fill="#111"/>
<circle cx="478.3" cy="318.2" r="1.45" fill="#111"/>
<circle cx="439.2" cy="313.0" r="1.45" fill="#111"/>
<circle cx="466.9" cy="320.4" r="1.45" fill="#111"/>
<circle cx="446.9" cy="348.9" r="1.45" fill="#111"/>
<circle cx="474.7" cy="335.7" r="1.45" fill="#111"/>
<circle cx="498.5" cy="354.6" r="1.45" fill="#111"/>
<circle cx="449.5" cy="320.4" r="1.45" fill="#111"/>
<circle cx="526.4" cy="354.3" r="1.45" fill="#111"/>
<circle cx="534.1" cy="343.6" r="1.45" fill="#111"/>
<circle cx="473.3" cy="322.9" r="1.45" fill="#111"/>
<circle cx="531.8" cy="350.2" r="1.45" fill="#111"/>
<circle cx="493.2" cy="349.2" r="1.45" fill="#111"/>
<circle cx="461.9" cy="336.2" r="1.45" fill="#111"/>
<circle cx="531.4" cy="331.2" r="1.45" fill="#111"/>
<circle cx="500.2" cy="327.7" r="1.45" fill="#111"/>
<circle cx="524.0" cy="352.1" r="1.45" fill="#111"/>
<circle cx="503.1" cy="337.1" r="1.45" fill="#111"/>
<circle cx="436.1" cy="331.5" r="1.45" fill="#111"/>
<circle cx="472.5" cy="331.6" r="1.45" fill="#111"/>
<circle cx="442.2" cy="353.1" r="1.45" fill="#111"/>
<circle cx="490.0" cy="340.2" r="1.45" fill="#111"/>
<circle cx="524.4" cy="353.8" r="1.45" fill="#111"/>
<circle cx="493.0" cy="339.8" r="1.45" fill="#111"/>
<circle cx="525.0" cy="337.9" r="1.45" fill="#111"/>
<circle cx="530.7" cy="328.6" r="1.45" fill="#111"/>
<circle cx="519.5" cy="342.1" r="1.45" fill="#111"/>
<circle cx="500.8" cy="356.7" r="1.45" fill="#111"/>
<circle cx="457.5" cy="329.9" r="1.45" fill="#111"/>
<circle cx="519.9" cy="349.0" r="1.45" fill="#111"/>
<circle cx="490.2" cy="348.5" r="1.45" fill="#111"/>
<circle cx="506.7" cy="352.5" r="1.45" fill="#111"/>
<circle cx="503.8" cy="334.6" r="1.45" fill="#111"/>
<circle cx="464.7" cy="316.6" r="1.45" fill="#111"/>
<circle cx="447.1" cy="311.0" r="1.45" fill="#111"/>
<line x1="433.8" y1="333.5" x2="541.5" y2="344" stroke="#5cb35f" stroke-width="3.2" stroke-linecap="butt"/>
<line x1="555.5" y1="302.2" x2="555.5" y2="385.6" stroke="#231f20" stroke-width="2" stroke-linecap="butt"/>
<line x1="554.5" y1="384.6" x2="676.1" y2="384.6" stroke="#231f20" stroke-width="2" stroke-linecap="butt"/>
<text x="559.9" y="398.4" font-size="11" font-weight="bold" font-style="normal" text-anchor="middle" fill="#231f20" >5</text>
<text x="596.3333333333334" y="398.4" font-size="11" font-weight="bold" font-style="normal" text-anchor="middle" fill="#231f20" >10</text>
<text x="632.7666666666667" y="398.4" font-size="11" font-weight="bold" font-style="normal" text-anchor="middle" fill="#231f20" >15</text>
<text x="669.2" y="398.4" font-size="11" font-weight="bold" font-style="normal" text-anchor="middle" fill="#231f20" >20</text>
<circle cx="613.6" cy="329.4" r="1.45" fill="#111"/>
<circle cx="637.4" cy="333.2" r="1.45" fill="#111"/>
<circle cx="629.5" cy="332.7" r="1.45" fill="#111"/>
<circle cx="560.4" cy="318.2" r="1.45" fill="#111"/>
<circle cx="660.0" cy="332.4" r="1.45" fill="#111"/>
<circle cx="653.4" cy="327.7" r="1.45" fill="#111"/>
<circle cx="595.0" cy="318.5" r="1.45" fill="#111"/>
<circle cx="603.7" cy="325.8" r="1.45" fill="#111"/>
<circle cx="560.1" cy="311.1" r="1.45" fill="#111"/>
<circle cx="576.0" cy="331.2" r="1.45" fill="#111"/>
<circle cx="633.1" cy="324.4" r="1.45" fill="#111"/>
<circle cx="637.7" cy="325.0" r="1.45" fill="#111"/>
<circle cx="612.9" cy="320.0" r="1.45" fill="#111"/>
<circle cx="559.9" cy="329.7" r="1.45" fill="#111"/>
<circle cx="570.4" cy="313.1" r="1.45" fill="#111"/>
<circle cx="666.3" cy="334.3" r="1.45" fill="#111"/>
<circle cx="576.9" cy="332.3" r="1.45" fill="#111"/>
<circle cx="603.2" cy="327.6" r="1.45" fill="#111"/>
<circle cx="570.0" cy="331.8" r="1.45" fill="#111"/>
<circle cx="622.6" cy="333.0" r="1.45" fill="#111"/>
<circle cx="652.3" cy="328.9" r="1.45" fill="#111"/>
<circle cx="583.6" cy="314.6" r="1.45" fill="#111"/>
<circle cx="566.0" cy="308.2" r="1.45" fill="#111"/>
<circle cx="578.0" cy="323.8" r="1.45" fill="#111"/>
<circle cx="559.9" cy="324.2" r="1.45" fill="#111"/>
<circle cx="581.4" cy="317.5" r="1.45" fill="#111"/>
<circle cx="640.8" cy="328.9" r="1.45" fill="#111"/>
<circle cx="579.3" cy="321.1" r="1.45" fill="#111"/>
<circle cx="624.6" cy="321.4" r="1.45" fill="#111"/>
<circle cx="665.1" cy="329.1" r="1.45" fill="#111"/>
<circle cx="630.9" cy="331.8" r="1.45" fill="#111"/>
<circle cx="560.2" cy="327.4" r="1.45" fill="#111"/>
<circle cx="584.1" cy="323.9" r="1.45" fill="#111"/>
<circle cx="560.0" cy="306.3" r="1.45" fill="#111"/>
<circle cx="568.3" cy="332.1" r="1.45" fill="#111"/>
<circle cx="569.4" cy="327.0" r="1.45" fill="#111"/>
<circle cx="657.9" cy="334.2" r="1.45" fill="#111"/>
<circle cx="582.0" cy="318.6" r="1.45" fill="#111"/>
<circle cx="601.4" cy="329.2" r="1.45" fill="#111"/>
<circle cx="563.8" cy="326.4" r="1.45" fill="#111"/>
<circle cx="637.7" cy="332.4" r="1.45" fill="#111"/>
<circle cx="560.7" cy="331.9" r="1.45" fill="#111"/>
<circle cx="562.9" cy="315.1" r="1.45" fill="#111"/>
<circle cx="612.1" cy="332.1" r="1.45" fill="#111"/>
<circle cx="581.6" cy="331.5" r="1.45" fill="#111"/>
<circle cx="603.9" cy="321.3" r="1.45" fill="#111"/>
<circle cx="579.4" cy="314.0" r="1.45" fill="#111"/>
<circle cx="562.3" cy="309.7" r="1.45" fill="#111"/>
<circle cx="622.4" cy="333.4" r="1.45" fill="#111"/>
<circle cx="567.0" cy="308.0" r="1.45" fill="#111"/>
<circle cx="667.0" cy="332.4" r="1.45" fill="#111"/>
<circle cx="588.2" cy="317.1" r="1.45" fill="#111"/>
<circle cx="609.9" cy="330.5" r="1.45" fill="#111"/>
<circle cx="593.5" cy="321.7" r="1.45" fill="#111"/>
<circle cx="561.3" cy="331.0" r="1.45" fill="#111"/>
<circle cx="560.5" cy="319.0" r="1.45" fill="#111"/>
<circle cx="643.8" cy="326.1" r="1.45" fill="#111"/>
<circle cx="628.3" cy="333.0" r="1.45" fill="#111"/>
<circle cx="614.6" cy="330.2" r="1.45" fill="#111"/>
<circle cx="563.7" cy="317.8" r="1.45" fill="#111"/>
<circle cx="566.2" cy="329.2" r="1.45" fill="#111"/>
<circle cx="577.4" cy="320.2" r="1.45" fill="#111"/>
<circle cx="669.1" cy="334.5" r="1.45" fill="#111"/>
<circle cx="665.3" cy="331.7" r="1.45" fill="#111"/>
<circle cx="597.2" cy="328.1" r="1.45" fill="#111"/>
<circle cx="596.1" cy="319.6" r="1.45" fill="#111"/>
<circle cx="587.9" cy="315.1" r="1.45" fill="#111"/>
<circle cx="585.2" cy="333.0" r="1.45" fill="#111"/>
<circle cx="662.7" cy="332.5" r="1.45" fill="#111"/>
<circle cx="598.5" cy="320.9" r="1.45" fill="#111"/>
<circle cx="562.8" cy="313.2" r="1.45" fill="#111"/>
<circle cx="635.5" cy="332.3" r="1.45" fill="#111"/>
<circle cx="583.6" cy="328.4" r="1.45" fill="#111"/>
<circle cx="634.5" cy="330.4" r="1.45" fill="#111"/>
<circle cx="619.0" cy="330.1" r="1.45" fill="#111"/>
<circle cx="583.8" cy="326.6" r="1.45" fill="#111"/>
<circle cx="576.2" cy="320.8" r="1.45" fill="#111"/>
<circle cx="633.7" cy="330.3" r="1.45" fill="#111"/>
<circle cx="577.3" cy="331.9" r="1.45" fill="#111"/>
<circle cx="617.1" cy="327.3" r="1.45" fill="#111"/>
<circle cx="560.0" cy="320.5" r="1.45" fill="#111"/>
<circle cx="573.6" cy="325.1" r="1.45" fill="#111"/>
<circle cx="594.3" cy="329.6" r="1.45" fill="#111"/>
<circle cx="616.8" cy="330.5" r="1.45" fill="#111"/>
<circle cx="582.3" cy="325.2" r="1.45" fill="#111"/>
<circle cx="629.2" cy="331.6" r="1.45" fill="#111"/>
<circle cx="582.5" cy="329.7" r="1.45" fill="#111"/>
<circle cx="648.6" cy="331.6" r="1.45" fill="#111"/>
<circle cx="665.3" cy="334.8" r="1.45" fill="#111"/>
<circle cx="600.7" cy="324.7" r="1.45" fill="#111"/>
<circle cx="567.3" cy="329.0" r="1.45" fill="#111"/>
<circle cx="659.1" cy="331.1" r="1.45" fill="#111"/>
<circle cx="622.7" cy="329.8" r="1.45" fill="#111"/>
<circle cx="628.1" cy="323.6" r="1.45" fill="#111"/>
<circle cx="635.2" cy="329.3" r="1.45" fill="#111"/>
<line x1="560.8" y1="320" x2="670.6" y2="332.8" stroke="#3b6b3d" stroke-width="3.2" stroke-linecap="butt"/>
<text x="279" y="343.4" font-size="14.3" font-weight="bold" font-style="normal" text-anchor="middle" fill="#231f20" transform="rotate(-90 279 343.4)" >Maximum lifespan</text>
<line x1="297.6" y1="327.8" x2="300" y2="327.8" stroke="#231f20" stroke-width="1.2" stroke-linecap="butt"/>
<line x1="297.6" y1="366.4" x2="300" y2="366.4" stroke="#231f20" stroke-width="1.2" stroke-linecap="butt"/>
<text x="296.3" y="331.8" font-size="12" font-weight="bold" font-style="normal" text-anchor="end" fill="#231f20" >10</text>
<text x="294.6" y="370.3" font-size="12" font-weight="bold" font-style="normal" text-anchor="end" fill="#231f20" >5</text>
<text x="473.2" y="413.7" font-size="13.5" font-weight="bold" font-style="normal" text-anchor="middle" fill="#231f20" >Baseline translation error rate (<tspan font-style="italic">E</tspan>)</text>
</svg></body></html>
